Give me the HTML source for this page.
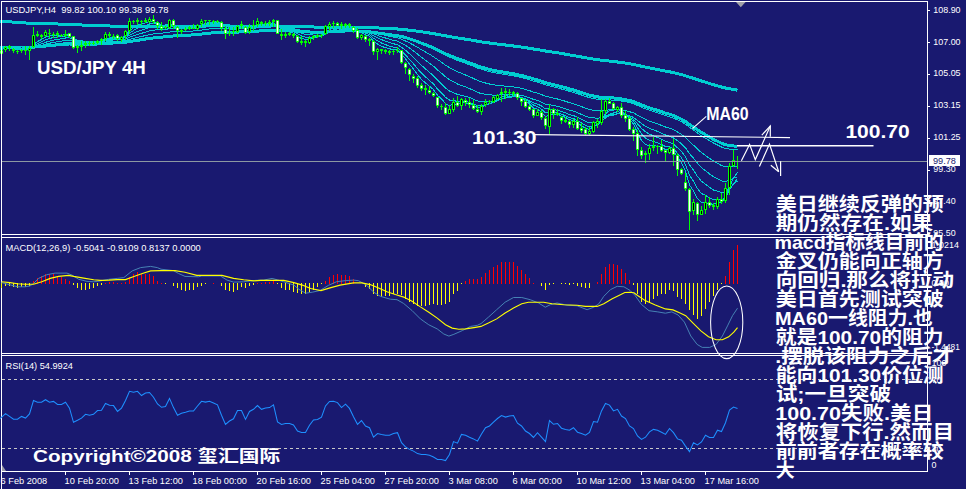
<!DOCTYPE html><html><head><meta charset="utf-8"><title>USDJPY H4</title><style>html,body{margin:0;padding:0;background:#191970;overflow:hidden}svg{display:block}</style></head><body><svg width="966" height="490" viewBox="0 0 966 490"><rect x="0" y="0" width="966" height="490" fill="#191970"/>
<polyline fill="none" stroke="#00ced1" stroke-width="1" points="0.0,47.7 5.5,47.7 9.5,47.7 13.5,47.8 17.5,47.9 21.5,48.0 25.5,48.1 29.5,48.1 33.5,47.6 37.5,47.2 41.5,46.8 45.5,46.2 49.5,45.8 53.5,45.4 57.5,45.0 61.5,44.7 65.5,44.3 69.5,44.0 73.5,44.1 77.5,44.2 81.5,44.2 85.5,44.2 89.5,44.1 93.5,44.1 97.5,44.0 101.5,43.8 105.5,43.5 109.5,43.2 113.5,42.9 117.5,42.8 121.5,42.6 125.5,42.2 129.5,41.4 133.5,40.7 137.5,40.0 141.5,39.3 145.5,38.7 149.5,38.0 153.5,37.4 157.5,37.0 161.5,36.7 165.5,36.3 169.5,35.8 173.5,35.4 177.5,35.3 181.5,35.1 185.5,34.9 189.5,34.6 193.5,34.3 197.5,34.0 201.5,33.5 205.5,33.1 209.5,32.6 213.5,32.2 217.5,31.8 221.5,31.7 225.5,31.8 229.5,31.8 233.5,31.8 237.5,31.6 241.5,31.3 245.5,31.3 249.5,31.2 253.5,30.9 257.5,30.6 261.5,30.4 265.5,30.1 269.5,29.9 273.5,29.5 277.5,29.7 281.5,29.9 285.5,30.0 289.5,30.1 293.5,30.4 297.5,30.8 301.5,31.2 305.5,31.6 309.5,31.8 313.5,31.9 317.5,32.0 321.5,32.1 325.5,31.9 329.5,31.6 333.5,31.3 337.5,31.1 341.5,31.0 345.5,30.7 349.5,30.6 353.5,30.6 357.5,30.8 361.5,31.0 365.5,31.3 369.5,31.6 373.5,32.3 377.5,32.9 381.5,33.5 385.5,34.1 389.5,34.7 393.5,35.3 397.5,35.8 401.5,36.8 405.5,37.9 409.5,39.3 413.5,40.7 417.5,42.3 421.5,44.0 425.5,45.6 429.5,47.3 433.5,49.0 437.5,51.1 441.5,53.1 445.5,55.2 449.5,57.1 453.5,58.7 457.5,60.4 461.5,61.8 465.5,63.3 469.5,64.8 473.5,66.3 477.5,68.0 481.5,69.3 485.5,70.5 489.5,71.6 493.5,72.5 497.5,73.3 501.5,73.9 505.5,74.6 509.5,75.3 513.5,75.9 517.5,76.7 521.5,77.6 525.5,78.7 529.5,79.8 533.5,81.1 537.5,82.2 541.5,83.5 545.5,85.0 549.5,85.8 553.5,86.9 557.5,87.8 561.5,89.0 565.5,90.1 569.5,91.3 573.5,92.4 577.5,93.7 581.5,95.0 585.5,96.4 589.5,97.6 593.5,98.5 597.5,99.3 601.5,99.7 605.5,99.8 609.5,99.9 613.5,100.3 617.5,100.5 621.5,101.0 625.5,101.7 629.5,102.7 633.5,103.8 637.5,105.4 641.5,107.2 645.5,108.9 649.5,110.3 653.5,111.6 657.5,112.8 661.5,114.2 665.5,115.6 669.5,116.7 673.5,118.1 677.5,119.9 681.5,121.9 685.5,124.2 689.5,127.4 693.5,130.1 697.5,133.1 701.5,135.9 705.5,138.2 709.5,140.6 713.5,143.0 717.5,145.0 721.5,147.0 725.5,148.4 729.5,149.1 733.5,149.5 737.5,149.9" shape-rendering="crispEdges"/>
<polyline fill="none" stroke="#00ced1" stroke-width="1" points="0.0,47.8 5.5,47.8 9.5,47.8 13.5,48.0 17.5,48.2 21.5,48.3 25.5,48.4 29.5,48.3 33.5,47.5 37.5,46.9 41.5,46.2 45.5,45.4 49.5,44.8 53.5,44.2 57.5,43.6 61.5,43.2 65.5,42.6 69.5,42.3 73.5,42.6 77.5,42.8 81.5,42.9 85.5,42.9 89.5,42.9 93.5,42.9 97.5,42.8 101.5,42.6 105.5,42.1 109.5,41.7 113.5,41.4 117.5,41.3 121.5,41.0 125.5,40.5 129.5,39.4 133.5,38.3 137.5,37.3 141.5,36.5 145.5,35.5 149.5,34.6 153.5,33.9 157.5,33.4 161.5,33.1 165.5,32.8 169.5,32.1 173.5,31.7 177.5,31.7 181.5,31.6 185.5,31.4 189.5,31.2 193.5,31.0 197.5,30.6 201.5,30.1 205.5,29.6 209.5,29.0 213.5,28.6 217.5,28.1 221.5,28.1 225.5,28.5 229.5,28.7 233.5,28.9 237.5,28.7 241.5,28.4 245.5,28.7 249.5,28.6 253.5,28.3 257.5,27.9 261.5,27.7 265.5,27.5 269.5,27.2 273.5,26.8 277.5,27.2 281.5,27.7 285.5,28.0 289.5,28.3 293.5,28.8 297.5,29.5 301.5,30.3 305.5,30.9 309.5,31.3 313.5,31.6 317.5,31.8 321.5,31.9 325.5,31.6 329.5,31.2 333.5,30.7 337.5,30.4 341.5,30.2 345.5,29.9 349.5,29.6 353.5,29.7 357.5,30.2 361.5,30.4 365.5,31.0 369.5,31.4 373.5,32.6 377.5,33.5 381.5,34.6 385.5,35.4 389.5,36.3 393.5,37.2 397.5,37.9 401.5,39.3 405.5,41.0 409.5,42.9 413.5,45.0 417.5,47.3 421.5,49.7 425.5,52.0 429.5,54.3 433.5,56.7 437.5,59.6 441.5,62.2 445.5,65.2 449.5,67.7 453.5,69.6 457.5,71.7 461.5,73.3 465.5,75.0 469.5,76.7 473.5,78.5 477.5,80.4 481.5,81.9 485.5,83.0 489.5,84.0 493.5,84.8 497.5,85.4 501.5,85.8 505.5,86.2 509.5,86.5 513.5,86.9 517.5,87.6 521.5,88.4 525.5,89.5 529.5,90.6 533.5,92.1 537.5,93.2 541.5,94.6 545.5,96.4 549.5,97.1 553.5,98.1 557.5,99.0 561.5,100.2 565.5,101.3 569.5,102.7 573.5,103.7 577.5,105.2 581.5,106.6 585.5,108.2 589.5,109.5 593.5,110.2 597.5,110.9 601.5,110.8 605.5,110.3 609.5,109.9 613.5,109.9 617.5,109.7 621.5,110.1 625.5,110.6 629.5,111.7 633.5,112.9 637.5,115.1 641.5,117.4 645.5,119.4 649.5,121.1 653.5,122.5 657.5,123.9 661.5,125.4 665.5,127.0 669.5,128.2 673.5,129.7 677.5,132.0 681.5,134.4 685.5,137.5 689.5,141.8 693.5,145.2 697.5,149.2 701.5,152.7 705.5,155.5 709.5,158.4 713.5,161.1 717.5,163.3 721.5,165.5 725.5,166.7 729.5,166.7 733.5,166.3 737.5,166.0" shape-rendering="crispEdges"/>
<polyline fill="none" stroke="#00ced1" stroke-width="1" points="0.0,48.1 5.5,47.9 9.5,47.9 13.5,48.3 17.5,48.5 21.5,48.6 25.5,48.7 29.5,48.6 33.5,47.4 37.5,46.3 41.5,45.4 45.5,44.2 49.5,43.2 53.5,42.4 57.5,41.7 61.5,41.1 65.5,40.5 69.5,40.1 73.5,40.8 77.5,41.3 81.5,41.6 85.5,41.7 89.5,41.8 93.5,41.9 97.5,41.8 101.5,41.6 105.5,40.9 109.5,40.5 113.5,40.0 117.5,39.9 121.5,39.7 125.5,38.9 129.5,37.3 133.5,35.9 137.5,34.4 141.5,33.3 145.5,32.1 149.5,30.9 153.5,30.2 157.5,29.8 161.5,29.7 165.5,29.4 169.5,28.6 173.5,28.4 177.5,28.6 181.5,28.7 185.5,28.7 189.5,28.6 193.5,28.5 197.5,28.2 201.5,27.6 205.5,26.9 209.5,26.3 213.5,25.8 217.5,25.4 221.5,25.6 225.5,26.4 229.5,27.0 233.5,27.4 237.5,27.2 241.5,27.0 245.5,27.5 249.5,27.4 253.5,27.2 257.5,26.6 261.5,26.4 265.5,26.1 269.5,25.8 273.5,25.3 277.5,26.0 281.5,26.9 285.5,27.6 289.5,28.1 293.5,28.8 297.5,30.0 301.5,31.2 305.5,32.1 309.5,32.7 313.5,32.9 317.5,33.1 321.5,33.3 325.5,32.6 329.5,31.8 333.5,31.0 337.5,30.5 341.5,30.1 345.5,29.6 349.5,29.3 353.5,29.4 357.5,30.2 361.5,30.6 365.5,31.5 369.5,32.1 373.5,33.9 377.5,35.3 381.5,36.8 385.5,38.0 389.5,39.2 393.5,40.3 397.5,41.1 401.5,43.1 405.5,45.4 409.5,48.1 413.5,50.9 417.5,54.1 421.5,57.2 425.5,60.2 429.5,63.2 433.5,66.2 437.5,69.9 441.5,73.2 445.5,76.8 449.5,79.8 453.5,81.8 457.5,84.0 461.5,85.4 465.5,86.9 469.5,88.6 473.5,90.4 477.5,92.4 481.5,93.6 485.5,94.3 489.5,94.9 493.5,95.1 497.5,95.1 501.5,94.8 505.5,94.7 509.5,94.5 513.5,94.4 517.5,94.8 521.5,95.4 525.5,96.5 529.5,97.7 533.5,99.4 537.5,100.5 541.5,102.1 545.5,104.3 549.5,104.7 553.5,105.6 557.5,106.2 561.5,107.6 565.5,108.7 569.5,110.2 573.5,111.1 577.5,112.8 581.5,114.4 585.5,116.2 589.5,117.5 593.5,117.9 597.5,118.2 601.5,117.6 605.5,116.0 609.5,114.9 613.5,114.4 617.5,113.8 621.5,113.9 625.5,114.4 629.5,115.8 633.5,117.4 637.5,120.4 641.5,123.6 645.5,126.3 649.5,128.3 653.5,129.9 657.5,131.4 661.5,133.2 665.5,135.0 669.5,136.2 673.5,137.9 677.5,140.8 681.5,143.8 685.5,147.9 689.5,153.7 693.5,158.2 697.5,163.3 701.5,167.6 705.5,170.7 709.5,173.9 713.5,176.8 717.5,178.8 721.5,180.9 725.5,181.5 729.5,180.1 733.5,178.3 737.5,176.7" shape-rendering="crispEdges"/>
<polyline fill="none" stroke="#00ced1" stroke-width="1" points="0.0,48.4 5.5,48.1 9.5,48.1 13.5,48.6 17.5,49.0 21.5,49.1 25.5,49.2 29.5,49.0 33.5,46.9 37.5,45.4 41.5,43.9 45.5,42.3 49.5,41.1 53.5,40.1 57.5,39.3 61.5,38.8 65.5,38.0 69.5,37.8 73.5,39.3 77.5,40.3 81.5,40.9 85.5,41.2 89.5,41.4 93.5,41.6 97.5,41.5 101.5,41.2 105.5,40.2 109.5,39.6 113.5,39.0 117.5,39.0 121.5,38.7 125.5,37.7 129.5,35.3 133.5,33.3 137.5,31.4 141.5,30.2 145.5,28.7 149.5,27.3 153.5,26.6 157.5,26.5 161.5,26.8 165.5,26.8 169.5,25.9 173.5,25.9 177.5,26.7 181.5,27.2 185.5,27.4 189.5,27.4 193.5,27.4 197.5,27.0 201.5,26.2 205.5,25.4 209.5,24.7 213.5,24.1 217.5,23.7 221.5,24.3 225.5,25.8 229.5,26.8 233.5,27.4 237.5,27.1 241.5,26.7 245.5,27.6 249.5,27.4 253.5,27.1 257.5,26.2 261.5,26.0 265.5,25.6 269.5,25.1 273.5,24.4 277.5,25.7 281.5,27.2 285.5,28.1 289.5,28.9 293.5,29.9 297.5,31.7 301.5,33.3 305.5,34.4 309.5,34.9 313.5,35.0 317.5,35.0 321.5,35.0 325.5,33.7 329.5,32.3 333.5,31.0 337.5,30.2 341.5,29.7 345.5,28.9 349.5,28.5 353.5,28.8 357.5,30.1 361.5,30.8 365.5,32.1 369.5,33.1 373.5,35.8 377.5,37.7 381.5,39.6 385.5,41.1 389.5,42.6 393.5,43.8 397.5,44.7 401.5,47.2 405.5,50.2 409.5,53.8 413.5,57.4 417.5,61.4 421.5,65.4 425.5,68.9 429.5,72.3 433.5,75.8 437.5,80.2 441.5,83.8 445.5,88.1 449.5,91.1 453.5,92.6 457.5,94.5 461.5,95.2 465.5,96.3 469.5,97.5 473.5,99.2 477.5,101.0 481.5,101.7 485.5,101.7 489.5,101.5 493.5,100.9 497.5,100.0 501.5,98.9 505.5,98.1 509.5,97.3 513.5,96.8 517.5,97.0 521.5,97.7 525.5,99.0 529.5,100.6 533.5,102.8 537.5,104.1 541.5,106.0 545.5,109.0 549.5,108.9 553.5,109.7 557.5,110.2 561.5,111.7 565.5,112.8 569.5,114.6 573.5,115.5 577.5,117.4 581.5,119.3 585.5,121.4 589.5,122.8 593.5,122.7 597.5,122.5 601.5,120.8 605.5,118.0 609.5,115.9 613.5,115.0 617.5,113.9 621.5,114.1 625.5,114.8 629.5,117.0 633.5,119.4 637.5,123.8 641.5,128.3 645.5,131.9 649.5,134.2 653.5,135.8 657.5,137.4 661.5,139.3 665.5,141.3 669.5,142.3 673.5,144.1 677.5,147.8 681.5,151.5 685.5,156.8 689.5,164.7 693.5,170.1 697.5,176.5 701.5,181.3 705.5,184.2 709.5,187.4 713.5,190.0 717.5,191.2 721.5,192.7 725.5,192.0 729.5,188.3 733.5,184.3 737.5,181.0" shape-rendering="crispEdges"/>
<polyline fill="none" stroke="#00ced1" stroke-width="1" points="0.0,48.9 5.5,48.4 9.5,48.3 13.5,49.0 17.5,49.5 21.5,49.5 25.5,49.6 29.5,49.2 33.5,45.9 37.5,43.8 41.5,41.9 45.5,39.8 49.5,38.5 53.5,37.5 57.5,36.9 61.5,36.6 65.5,35.9 69.5,36.1 73.5,38.8 77.5,40.4 81.5,41.4 85.5,41.6 89.5,41.9 93.5,42.1 97.5,41.8 101.5,41.3 105.5,39.8 109.5,38.9 113.5,38.2 117.5,38.3 121.5,38.1 125.5,36.6 129.5,33.2 133.5,30.5 137.5,28.2 141.5,26.9 145.5,25.4 149.5,24.0 153.5,23.6 157.5,24.1 161.5,25.1 165.5,25.5 169.5,24.3 173.5,24.7 177.5,26.2 181.5,27.0 185.5,27.4 189.5,27.4 193.5,27.4 197.5,26.8 201.5,25.6 205.5,24.5 209.5,23.6 213.5,22.9 217.5,22.5 221.5,23.8 225.5,26.1 229.5,27.6 233.5,28.4 237.5,27.8 241.5,27.0 245.5,28.3 249.5,27.9 253.5,27.2 257.5,25.9 261.5,25.6 265.5,25.0 269.5,24.5 273.5,23.5 277.5,25.8 281.5,28.0 285.5,29.3 289.5,30.2 293.5,31.5 297.5,33.9 301.5,35.9 305.5,37.1 309.5,37.3 313.5,36.9 317.5,36.5 321.5,36.1 325.5,33.9 329.5,31.6 333.5,29.7 337.5,28.8 341.5,28.3 345.5,27.4 349.5,27.2 353.5,27.9 357.5,30.1 361.5,31.2 365.5,33.1 369.5,34.4 373.5,38.3 377.5,40.7 381.5,43.0 385.5,44.6 389.5,46.1 393.5,47.2 397.5,47.8 401.5,51.1 405.5,54.9 409.5,59.4 413.5,63.8 417.5,68.7 421.5,73.2 425.5,76.9 429.5,80.4 433.5,84.0 437.5,89.0 441.5,92.8 445.5,97.4 449.5,100.1 453.5,100.4 457.5,101.6 461.5,101.1 465.5,101.5 469.5,102.3 473.5,103.8 477.5,105.6 481.5,105.7 485.5,104.7 489.5,103.8 493.5,102.4 497.5,100.7 501.5,98.8 505.5,97.6 509.5,96.4 513.5,95.8 517.5,96.4 521.5,97.6 525.5,99.7 529.5,101.9 533.5,105.1 537.5,106.6 541.5,109.1 545.5,112.9 549.5,112.0 553.5,112.6 557.5,112.6 561.5,114.4 565.5,115.6 569.5,117.7 573.5,118.4 577.5,120.8 581.5,123.0 585.5,125.4 589.5,126.7 593.5,125.6 597.5,124.7 601.5,121.6 605.5,117.0 609.5,114.1 613.5,113.0 617.5,111.7 621.5,112.6 625.5,114.0 629.5,117.5 633.5,121.1 637.5,127.6 641.5,133.8 645.5,138.1 649.5,140.4 653.5,141.5 657.5,142.8 661.5,144.5 665.5,146.5 669.5,146.8 673.5,148.7 677.5,153.3 681.5,157.8 685.5,164.7 689.5,175.3 693.5,181.3 697.5,188.7 701.5,193.5 705.5,195.4 709.5,197.9 713.5,199.5 717.5,199.4 721.5,199.9 725.5,197.2 729.5,190.2 733.5,183.6 737.5,178.6" shape-rendering="crispEdges"/>
<polyline fill="none" stroke="#00ced1" stroke-width="1" points="0.0,49.5 5.5,48.6 9.5,48.4 13.5,49.4 17.5,50.0 21.5,49.9 25.5,49.9 29.5,49.1 33.5,44.3 37.5,41.6 41.5,39.5 45.5,37.1 49.5,36.1 53.5,35.3 57.5,35.2 61.5,35.3 65.5,34.7 69.5,35.3 73.5,39.6 77.5,41.8 81.5,42.8 85.5,42.7 89.5,42.8 93.5,42.7 97.5,42.1 101.5,41.2 105.5,38.9 109.5,37.9 113.5,37.1 117.5,37.7 121.5,37.6 125.5,35.5 129.5,30.8 133.5,27.6 137.5,25.1 141.5,24.2 145.5,22.8 149.5,21.5 153.5,21.9 157.5,23.1 161.5,25.0 165.5,25.7 169.5,23.8 173.5,24.6 177.5,26.8 181.5,27.9 185.5,28.1 189.5,27.9 193.5,27.8 197.5,26.8 201.5,25.0 205.5,23.5 209.5,22.5 213.5,21.9 217.5,21.6 221.5,23.8 225.5,27.3 229.5,29.1 233.5,29.8 237.5,28.4 241.5,27.1 245.5,28.9 249.5,28.1 253.5,27.0 257.5,25.1 261.5,24.9 265.5,24.3 269.5,23.7 273.5,22.5 277.5,26.3 281.5,29.4 285.5,30.9 289.5,31.7 293.5,33.2 297.5,36.2 301.5,38.5 305.5,39.4 309.5,38.9 313.5,37.8 317.5,36.9 321.5,36.1 325.5,32.8 329.5,29.7 333.5,27.6 337.5,26.9 341.5,26.7 345.5,25.9 349.5,26.1 353.5,27.6 357.5,31.0 361.5,32.3 365.5,34.8 369.5,36.2 373.5,41.5 377.5,44.0 381.5,46.4 385.5,47.6 389.5,48.8 393.5,49.6 397.5,49.7 401.5,54.0 405.5,58.8 409.5,64.2 413.5,69.1 417.5,74.7 421.5,79.4 425.5,83.0 429.5,86.2 433.5,89.7 437.5,95.3 441.5,98.8 445.5,103.7 449.5,105.6 453.5,104.3 457.5,104.8 461.5,103.0 465.5,102.9 469.5,103.7 473.5,105.4 477.5,107.6 481.5,107.0 485.5,105.2 489.5,103.7 493.5,101.5 497.5,99.3 501.5,97.0 505.5,95.7 509.5,94.5 513.5,94.3 517.5,95.7 521.5,97.7 525.5,100.8 529.5,103.8 533.5,108.0 537.5,109.3 541.5,112.1 545.5,116.8 549.5,114.2 553.5,114.3 557.5,113.8 561.5,116.1 565.5,117.3 569.5,119.9 573.5,120.3 577.5,123.1 581.5,125.7 585.5,128.4 589.5,129.3 593.5,126.9 597.5,125.0 601.5,120.3 605.5,113.8 609.5,110.5 613.5,110.1 617.5,109.1 621.5,111.3 625.5,113.8 629.5,119.2 633.5,124.0 637.5,132.7 641.5,140.4 645.5,144.7 649.5,145.8 653.5,145.8 657.5,146.2 661.5,147.7 665.5,149.5 669.5,149.1 673.5,151.1 677.5,157.2 681.5,162.7 685.5,171.4 689.5,185.1 693.5,190.8 697.5,198.7 701.5,202.7 705.5,202.4 709.5,203.7 713.5,204.3 717.5,202.4 721.5,202.2 725.5,197.4 729.5,186.9 733.5,178.0 737.5,172.5" shape-rendering="crispEdges"/>
<polyline fill="none" stroke="#00ced1" stroke-width="3" points="0.0,47.2 5.5,47.2 9.5,47.2 13.5,47.4 17.5,47.5 21.5,47.6 25.5,47.6 29.5,47.6 33.5,47.2 37.5,46.8 41.5,46.5 45.5,46.0 49.5,45.6 53.5,45.2 57.5,44.9 61.5,44.6 65.5,44.2 69.5,44.0 73.5,44.1 77.5,44.2 81.5,44.2 85.5,44.1 89.5,44.1 93.5,44.1 97.5,44.0 101.5,43.8 105.5,43.5 109.5,43.2 113.5,43.0 117.5,42.9 121.5,42.7 125.5,42.3 129.5,41.6 133.5,40.9 137.5,40.3 141.5,39.7 145.5,39.0 149.5,38.4 153.5,37.9 157.5,37.5 161.5,37.2 165.5,36.8 169.5,36.3 173.5,36.0 177.5,35.8 181.5,35.6 185.5,35.4 189.5,35.1 193.5,34.9 197.5,34.5 201.5,34.1 205.5,33.7 209.5,33.2 213.5,32.8 217.5,32.4 221.5,32.3 225.5,32.4 229.5,32.4 233.5,32.3 237.5,32.1 241.5,31.9 245.5,31.9 249.5,31.7 253.5,31.5 257.5,31.1 261.5,30.9 265.5,30.7 269.5,30.4 273.5,30.1 277.5,30.2 281.5,30.4 285.5,30.5 289.5,30.6 293.5,30.8 297.5,31.1 301.5,31.5 305.5,31.8 309.5,32.0 313.5,32.2 317.5,32.3 321.5,32.3 325.5,32.1 329.5,31.9 333.5,31.6 337.5,31.4 341.5,31.2 345.5,31.0 349.5,30.8 353.5,30.8 357.5,31.1 361.5,31.2 365.5,31.5 369.5,31.7 373.5,32.4 377.5,32.9 381.5,33.5 385.5,34.1 389.5,34.6 393.5,35.2 397.5,35.7 401.5,36.5 405.5,37.6 409.5,38.8 413.5,40.1 417.5,41.6 421.5,43.2 425.5,44.7 429.5,46.3 433.5,47.9 437.5,49.9 441.5,51.7 445.5,53.7 449.5,55.5 453.5,57.1 457.5,58.7 461.5,60.0 465.5,61.4 469.5,62.8 473.5,64.3 477.5,65.9 481.5,67.2 485.5,68.3 489.5,69.4 493.5,70.3 497.5,71.1 501.5,71.8 505.5,72.5 509.5,73.1 513.5,73.8 517.5,74.6 521.5,75.5 525.5,76.6 529.5,77.6 533.5,78.9 537.5,80.0 541.5,81.2 545.5,82.7 549.5,83.6 553.5,84.6 557.5,85.5 561.5,86.7 565.5,87.7 569.5,89.0 573.5,90.0 577.5,91.3 581.5,92.6 585.5,93.9 589.5,95.2 593.5,96.0 597.5,96.9 601.5,97.3 605.5,97.4 609.5,97.7 613.5,98.0 617.5,98.3 621.5,98.9 625.5,99.6 629.5,100.5 633.5,101.6 637.5,103.2 641.5,104.9 645.5,106.5 649.5,107.9 653.5,109.1 657.5,110.4 661.5,111.7 665.5,113.1 669.5,114.2 673.5,115.6 677.5,117.3 681.5,119.2 685.5,121.5 689.5,124.4 693.5,127.0 697.5,129.9 701.5,132.5 705.5,134.8 709.5,137.1 713.5,139.4 717.5,141.3 721.5,143.3 725.5,144.8 729.5,145.4 733.5,145.9 737.5,146.4" stroke-linejoin="round" shape-rendering="crispEdges"/>
<polyline fill="none" stroke="#00ced1" stroke-width="3" points="0.0,21.3 5.5,21.6 9.5,21.8 13.5,22.1 17.5,22.4 21.5,22.7 25.5,23.0 29.5,23.2 33.5,23.3 37.5,23.5 41.5,23.6 45.5,23.7 49.5,23.8 53.5,23.9 57.5,24.0 61.5,24.1 65.5,24.2 69.5,24.3 73.5,24.5 77.5,24.8 81.5,25.0 85.5,25.1 89.5,25.3 93.5,25.5 97.5,25.6 101.5,25.8 105.5,25.9 109.5,26.0 113.5,26.1 117.5,26.2 121.5,26.3 125.5,26.3 129.5,26.3 133.5,26.2 137.5,26.2 141.5,26.1 145.5,26.1 149.5,26.0 153.5,26.0 157.5,26.0 161.5,26.0 165.5,26.0 169.5,25.9 173.5,26.0 177.5,26.0 181.5,26.0 185.5,26.1 189.5,26.1 193.5,26.1 197.5,26.1 201.5,26.0 205.5,26.0 209.5,25.9 213.5,25.9 217.5,25.8 221.5,25.8 225.5,25.9 229.5,26.0 233.5,26.1 237.5,26.0 241.5,26.0 245.5,26.1 249.5,26.1 253.5,26.1 257.5,26.0 261.5,26.0 265.5,26.0 269.5,26.0 273.5,25.9 277.5,26.0 281.5,26.1 285.5,26.2 289.5,26.2 293.5,26.3 297.5,26.5 301.5,26.7 305.5,26.8 309.5,26.9 313.5,27.0 317.5,27.1 321.5,27.1 325.5,27.1 329.5,27.1 333.5,27.1 337.5,27.1 341.5,27.0 345.5,27.0 349.5,27.0 353.5,27.0 357.5,27.2 361.5,27.2 365.5,27.4 369.5,27.5 373.5,27.7 377.5,27.9 381.5,28.2 385.5,28.4 389.5,28.6 393.5,28.8 397.5,29.0 401.5,29.4 405.5,29.8 409.5,30.2 413.5,30.7 417.5,31.2 421.5,31.8 425.5,32.4 429.5,33.0 433.5,33.6 437.5,34.4 441.5,35.1 445.5,35.8 449.5,36.6 453.5,37.2 457.5,37.9 461.5,38.5 465.5,39.2 469.5,39.8 473.5,40.5 477.5,41.2 481.5,41.9 485.5,42.5 489.5,43.0 493.5,43.6 497.5,44.1 501.5,44.6 505.5,45.0 509.5,45.5 513.5,46.0 517.5,46.5 521.5,47.1 525.5,47.7 529.5,48.3 533.5,49.0 537.5,49.6 541.5,50.3 545.5,51.0 549.5,51.6 553.5,52.2 557.5,52.8 561.5,53.5 565.5,54.2 569.5,54.9 573.5,55.5 577.5,56.3 581.5,57.0 585.5,57.8 589.5,58.5 593.5,59.1 597.5,59.7 601.5,60.2 605.5,60.7 609.5,61.1 613.5,61.6 617.5,62.0 621.5,62.5 625.5,63.1 629.5,63.8 633.5,64.5 637.5,65.3 641.5,66.2 645.5,67.1 649.5,67.9 653.5,68.7 657.5,69.4 661.5,70.3 665.5,71.1 669.5,71.8 673.5,72.7 677.5,73.6 681.5,74.6 685.5,75.8 689.5,77.1 693.5,78.4 697.5,79.7 701.5,81.0 705.5,82.2 709.5,83.5 713.5,84.7 717.5,85.8 721.5,87.0 725.5,88.0 729.5,88.7 733.5,89.5 737.5,90.2" stroke-linejoin="round" shape-rendering="crispEdges"/>
<g shape-rendering="crispEdges"><rect x="1" y="48" width="1" height="6" fill="#00ff00"/><rect x="0" y="50" width="3" height="4" fill="#00ff00"/><rect x="1" y="51" width="1" height="2" fill="#ffffff"/><rect x="0" y="51" width="3" height="2" fill="#ffffff" opacity="0.3"/><rect x="5" y="46" width="1" height="6" fill="#00ff00"/><rect x="4" y="47" width="3" height="3" fill="#00ff00"/><rect x="5" y="48" width="1" height="1" fill="#000"/><rect x="9" y="45" width="1" height="6" fill="#00ff00"/><rect x="8" y="46" width="3" height="2" fill="#00ff00"/><rect x="13" y="48" width="1" height="5" fill="#00ff00"/><rect x="12" y="49" width="3" height="2" fill="#00ff00"/><rect x="17" y="50" width="1" height="4" fill="#00ff00"/><rect x="16" y="51" width="3" height="1" fill="#00ff00"/><rect x="21" y="49" width="1" height="4" fill="#00ff00"/><rect x="20" y="50" width="3" height="1" fill="#00ff00"/><rect x="25" y="46" width="1" height="9" fill="#00ff00"/><rect x="24" y="50" width="3" height="1" fill="#00ff00"/><rect x="29" y="46" width="1" height="14" fill="#00ff00"/><rect x="28" y="48" width="3" height="3" fill="#00ff00"/><rect x="29" y="49" width="1" height="1" fill="#000"/><rect x="33" y="27" width="1" height="21" fill="#00ff00"/><rect x="32" y="35" width="3" height="12" fill="#00ff00"/><rect x="33" y="36" width="1" height="10" fill="#000"/><rect x="37" y="31" width="1" height="6" fill="#00ff00"/><rect x="36" y="34" width="3" height="2" fill="#00ff00"/><rect x="41" y="34" width="1" height="5" fill="#00ff00"/><rect x="40" y="35" width="3" height="2" fill="#00ff00"/><rect x="45" y="30" width="1" height="7" fill="#00ff00"/><rect x="44" y="32" width="3" height="4" fill="#00ff00"/><rect x="45" y="33" width="1" height="2" fill="#000"/><rect x="49" y="29" width="1" height="9" fill="#00ff00"/><rect x="48" y="33" width="3" height="1" fill="#00ff00"/><rect x="53" y="32" width="1" height="6" fill="#00ff00"/><rect x="52" y="34" width="3" height="1" fill="#00ff00"/><rect x="57" y="31" width="1" height="7" fill="#00ff00"/><rect x="56" y="33" width="3" height="2" fill="#00ff00"/><rect x="61" y="34" width="1" height="3" fill="#00ff00"/><rect x="60" y="35" width="3" height="1" fill="#00ff00"/><rect x="65" y="30" width="1" height="7" fill="#00ff00"/><rect x="64" y="34" width="3" height="2" fill="#00ff00"/><rect x="69" y="33" width="1" height="5" fill="#00ff00"/><rect x="68" y="33" width="3" height="4" fill="#00ff00"/><rect x="69" y="34" width="1" height="2" fill="#ffffff"/><rect x="68" y="34" width="3" height="2" fill="#ffffff" opacity="0.3"/><rect x="73" y="36" width="1" height="13" fill="#00ff00"/><rect x="72" y="36" width="3" height="12" fill="#00ff00"/><rect x="73" y="37" width="1" height="10" fill="#ffffff"/><rect x="72" y="37" width="3" height="10" fill="#ffffff" opacity="0.3"/><rect x="77" y="45" width="1" height="8" fill="#00ff00"/><rect x="76" y="46" width="3" height="2" fill="#00ff00"/><rect x="81" y="41" width="1" height="10" fill="#00ff00"/><rect x="80" y="45" width="3" height="2" fill="#00ff00"/><rect x="85" y="41" width="1" height="7" fill="#00ff00"/><rect x="84" y="43" width="3" height="2" fill="#00ff00"/><rect x="89" y="41" width="1" height="5" fill="#00ff00"/><rect x="88" y="43" width="3" height="1" fill="#00ff00"/><rect x="93" y="41" width="1" height="4" fill="#00ff00"/><rect x="92" y="43" width="3" height="1" fill="#00ff00"/><rect x="97" y="40" width="1" height="4" fill="#00ff00"/><rect x="96" y="41" width="3" height="2" fill="#00ff00"/><rect x="101" y="38" width="1" height="7" fill="#00ff00"/><rect x="100" y="39" width="3" height="2" fill="#00ff00"/><rect x="105" y="32" width="1" height="9" fill="#00ff00"/><rect x="104" y="34" width="3" height="5" fill="#00ff00"/><rect x="105" y="35" width="1" height="3" fill="#000"/><rect x="109" y="32" width="1" height="6" fill="#00ff00"/><rect x="108" y="34" width="3" height="2" fill="#00ff00"/><rect x="113" y="34" width="1" height="5" fill="#00ff00"/><rect x="112" y="36" width="3" height="1" fill="#00ff00"/><rect x="117" y="34" width="1" height="7" fill="#00ff00"/><rect x="116" y="35" width="3" height="4" fill="#00ff00"/><rect x="117" y="36" width="1" height="2" fill="#ffffff"/><rect x="116" y="36" width="3" height="2" fill="#ffffff" opacity="0.3"/><rect x="121" y="36" width="1" height="6" fill="#00ff00"/><rect x="120" y="37" width="3" height="3" fill="#00ff00"/><rect x="121" y="38" width="1" height="1" fill="#000"/><rect x="125" y="30" width="1" height="10" fill="#00ff00"/><rect x="124" y="31" width="3" height="5" fill="#00ff00"/><rect x="125" y="32" width="1" height="3" fill="#000"/><rect x="129" y="18" width="1" height="16" fill="#00ff00"/><rect x="128" y="21" width="3" height="10" fill="#00ff00"/><rect x="129" y="22" width="1" height="8" fill="#000"/><rect x="133" y="20" width="1" height="4" fill="#00ff00"/><rect x="132" y="21" width="3" height="1" fill="#00ff00"/><rect x="137" y="18" width="1" height="7" fill="#00ff00"/><rect x="136" y="20" width="3" height="2" fill="#00ff00"/><rect x="141" y="20" width="1" height="5" fill="#00ff00"/><rect x="140" y="21" width="3" height="1" fill="#00ff00"/><rect x="145" y="18" width="1" height="5" fill="#00ff00"/><rect x="144" y="20" width="3" height="2" fill="#00ff00"/><rect x="149" y="17" width="1" height="6" fill="#00ff00"/><rect x="148" y="19" width="3" height="3" fill="#00ff00"/><rect x="149" y="20" width="1" height="1" fill="#000"/><rect x="153" y="15" width="1" height="9" fill="#00ff00"/><rect x="152" y="19" width="3" height="3" fill="#00ff00"/><rect x="153" y="20" width="1" height="1" fill="#ffffff"/><rect x="152" y="20" width="3" height="1" fill="#ffffff" opacity="0.3"/><rect x="157" y="21" width="1" height="8" fill="#00ff00"/><rect x="156" y="22" width="3" height="4" fill="#00ff00"/><rect x="157" y="23" width="1" height="2" fill="#ffffff"/><rect x="156" y="23" width="3" height="2" fill="#ffffff" opacity="0.3"/><rect x="161" y="22" width="1" height="9" fill="#00ff00"/><rect x="160" y="26" width="3" height="3" fill="#00ff00"/><rect x="161" y="27" width="1" height="1" fill="#ffffff"/><rect x="160" y="27" width="3" height="1" fill="#ffffff" opacity="0.3"/><rect x="165" y="26" width="1" height="3" fill="#00ff00"/><rect x="164" y="27" width="3" height="1" fill="#00ff00"/><rect x="169" y="19" width="1" height="10" fill="#00ff00"/><rect x="168" y="20" width="3" height="8" fill="#00ff00"/><rect x="169" y="21" width="1" height="6" fill="#000"/><rect x="173" y="19" width="1" height="10" fill="#00ff00"/><rect x="172" y="20" width="3" height="6" fill="#00ff00"/><rect x="173" y="21" width="1" height="4" fill="#ffffff"/><rect x="172" y="21" width="3" height="4" fill="#ffffff" opacity="0.3"/><rect x="177" y="26" width="1" height="12" fill="#00ff00"/><rect x="176" y="27" width="3" height="4" fill="#00ff00"/><rect x="177" y="28" width="1" height="2" fill="#ffffff"/><rect x="176" y="28" width="3" height="2" fill="#ffffff" opacity="0.3"/><rect x="181" y="29" width="1" height="5" fill="#00ff00"/><rect x="180" y="30" width="3" height="2" fill="#00ff00"/><rect x="185" y="27" width="1" height="4" fill="#00ff00"/><rect x="184" y="29" width="3" height="1" fill="#00ff00"/><rect x="189" y="26" width="1" height="4" fill="#00ff00"/><rect x="188" y="27" width="3" height="2" fill="#00ff00"/><rect x="193" y="24" width="1" height="5" fill="#00ff00"/><rect x="192" y="28" width="3" height="1" fill="#00ff00"/><rect x="197" y="24" width="1" height="6" fill="#00ff00"/><rect x="196" y="25" width="3" height="4" fill="#00ff00"/><rect x="197" y="26" width="1" height="2" fill="#000"/><rect x="201" y="19" width="1" height="8" fill="#00ff00"/><rect x="200" y="21" width="3" height="3" fill="#00ff00"/><rect x="201" y="22" width="1" height="1" fill="#000"/><rect x="205" y="20" width="1" height="5" fill="#00ff00"/><rect x="204" y="20" width="3" height="1" fill="#00ff00"/><rect x="209" y="20" width="1" height="5" fill="#00ff00"/><rect x="208" y="20" width="3" height="1" fill="#00ff00"/><rect x="213" y="20" width="1" height="4" fill="#00ff00"/><rect x="212" y="21" width="3" height="1" fill="#00ff00"/><rect x="217" y="20" width="1" height="3" fill="#00ff00"/><rect x="216" y="21" width="3" height="1" fill="#00ff00"/><rect x="221" y="21" width="1" height="10" fill="#00ff00"/><rect x="220" y="22" width="3" height="6" fill="#00ff00"/><rect x="221" y="23" width="1" height="4" fill="#ffffff"/><rect x="220" y="23" width="3" height="4" fill="#ffffff" opacity="0.3"/><rect x="225" y="26" width="1" height="13" fill="#00ff00"/><rect x="224" y="29" width="3" height="5" fill="#00ff00"/><rect x="225" y="30" width="1" height="3" fill="#ffffff"/><rect x="224" y="30" width="3" height="3" fill="#ffffff" opacity="0.3"/><rect x="229" y="27" width="1" height="9" fill="#00ff00"/><rect x="228" y="33" width="3" height="1" fill="#00ff00"/><rect x="233" y="27" width="1" height="9" fill="#00ff00"/><rect x="232" y="31" width="3" height="1" fill="#00ff00"/><rect x="237" y="25" width="1" height="8" fill="#00ff00"/><rect x="236" y="26" width="3" height="6" fill="#00ff00"/><rect x="237" y="27" width="1" height="4" fill="#000"/><rect x="241" y="21" width="1" height="8" fill="#00ff00"/><rect x="240" y="24" width="3" height="2" fill="#00ff00"/><rect x="245" y="26" width="1" height="8" fill="#00ff00"/><rect x="244" y="27" width="3" height="6" fill="#00ff00"/><rect x="245" y="28" width="1" height="4" fill="#ffffff"/><rect x="244" y="28" width="3" height="4" fill="#ffffff" opacity="0.3"/><rect x="249" y="24" width="1" height="10" fill="#00ff00"/><rect x="248" y="27" width="3" height="5" fill="#00ff00"/><rect x="249" y="28" width="1" height="3" fill="#000"/><rect x="253" y="20" width="1" height="11" fill="#00ff00"/><rect x="252" y="25" width="3" height="1" fill="#00ff00"/><rect x="257" y="18" width="1" height="9" fill="#00ff00"/><rect x="256" y="21" width="3" height="4" fill="#00ff00"/><rect x="257" y="22" width="1" height="2" fill="#000"/><rect x="261" y="21" width="1" height="5" fill="#00ff00"/><rect x="260" y="22" width="3" height="2" fill="#00ff00"/><rect x="265" y="21" width="1" height="5" fill="#00ff00"/><rect x="264" y="23" width="3" height="1" fill="#00ff00"/><rect x="269" y="20" width="1" height="6" fill="#00ff00"/><rect x="268" y="22" width="3" height="2" fill="#00ff00"/><rect x="273" y="19" width="1" height="8" fill="#00ff00"/><rect x="272" y="20" width="3" height="2" fill="#00ff00"/><rect x="277" y="20" width="1" height="14" fill="#00ff00"/><rect x="276" y="20" width="3" height="14" fill="#00ff00"/><rect x="277" y="21" width="1" height="12" fill="#ffffff"/><rect x="276" y="21" width="3" height="12" fill="#ffffff" opacity="0.3"/><rect x="281" y="29" width="1" height="11" fill="#00ff00"/><rect x="280" y="34" width="3" height="2" fill="#00ff00"/><rect x="285" y="32" width="1" height="6" fill="#00ff00"/><rect x="284" y="34" width="3" height="2" fill="#00ff00"/><rect x="289" y="32" width="1" height="4" fill="#00ff00"/><rect x="288" y="33" width="3" height="2" fill="#00ff00"/><rect x="293" y="33" width="1" height="5" fill="#00ff00"/><rect x="292" y="34" width="3" height="2" fill="#00ff00"/><rect x="297" y="35" width="1" height="8" fill="#00ff00"/><rect x="296" y="36" width="3" height="6" fill="#00ff00"/><rect x="297" y="37" width="1" height="4" fill="#ffffff"/><rect x="296" y="37" width="3" height="4" fill="#ffffff" opacity="0.3"/><rect x="301" y="36" width="1" height="9" fill="#00ff00"/><rect x="300" y="41" width="3" height="2" fill="#00ff00"/><rect x="305" y="40" width="1" height="7" fill="#00ff00"/><rect x="304" y="41" width="3" height="2" fill="#00ff00"/><rect x="309" y="36" width="1" height="8" fill="#00ff00"/><rect x="308" y="38" width="3" height="5" fill="#00ff00"/><rect x="309" y="39" width="1" height="3" fill="#000"/><rect x="313" y="35" width="1" height="5" fill="#00ff00"/><rect x="312" y="36" width="3" height="2" fill="#00ff00"/><rect x="317" y="34" width="1" height="4" fill="#00ff00"/><rect x="316" y="35" width="3" height="2" fill="#00ff00"/><rect x="321" y="34" width="1" height="4" fill="#00ff00"/><rect x="320" y="35" width="3" height="1" fill="#00ff00"/><rect x="325" y="25" width="1" height="10" fill="#00ff00"/><rect x="324" y="26" width="3" height="8" fill="#00ff00"/><rect x="325" y="27" width="1" height="6" fill="#000"/><rect x="329" y="22" width="1" height="9" fill="#00ff00"/><rect x="328" y="24" width="3" height="3" fill="#00ff00"/><rect x="329" y="25" width="1" height="1" fill="#000"/><rect x="333" y="21" width="1" height="7" fill="#00ff00"/><rect x="332" y="23" width="3" height="1" fill="#00ff00"/><rect x="337" y="22" width="1" height="4" fill="#00ff00"/><rect x="336" y="23" width="3" height="3" fill="#00ff00"/><rect x="337" y="24" width="1" height="1" fill="#ffffff"/><rect x="336" y="24" width="3" height="1" fill="#ffffff" opacity="0.3"/><rect x="341" y="22" width="1" height="7" fill="#00ff00"/><rect x="340" y="24" width="3" height="2" fill="#00ff00"/><rect x="345" y="23" width="1" height="5" fill="#00ff00"/><rect x="344" y="24" width="3" height="2" fill="#00ff00"/><rect x="349" y="23" width="1" height="5" fill="#00ff00"/><rect x="348" y="24" width="3" height="2" fill="#00ff00"/><rect x="353" y="26" width="1" height="7" fill="#00ff00"/><rect x="352" y="27" width="3" height="4" fill="#00ff00"/><rect x="353" y="28" width="1" height="2" fill="#ffffff"/><rect x="352" y="28" width="3" height="2" fill="#ffffff" opacity="0.3"/><rect x="357" y="28" width="1" height="11" fill="#00ff00"/><rect x="356" y="30" width="3" height="8" fill="#00ff00"/><rect x="357" y="31" width="1" height="6" fill="#ffffff"/><rect x="356" y="31" width="3" height="6" fill="#ffffff" opacity="0.3"/><rect x="361" y="34" width="1" height="6" fill="#00ff00"/><rect x="360" y="35" width="3" height="3" fill="#00ff00"/><rect x="361" y="36" width="1" height="1" fill="#000"/><rect x="365" y="35" width="1" height="7" fill="#00ff00"/><rect x="364" y="36" width="3" height="4" fill="#00ff00"/><rect x="365" y="37" width="1" height="2" fill="#ffffff"/><rect x="364" y="37" width="3" height="2" fill="#ffffff" opacity="0.3"/><rect x="369" y="38" width="1" height="8" fill="#00ff00"/><rect x="368" y="39" width="3" height="2" fill="#00ff00"/><rect x="373" y="40" width="1" height="15" fill="#00ff00"/><rect x="372" y="41" width="3" height="11" fill="#00ff00"/><rect x="373" y="42" width="1" height="9" fill="#ffffff"/><rect x="372" y="42" width="3" height="9" fill="#ffffff" opacity="0.3"/><rect x="377" y="48" width="1" height="12" fill="#00ff00"/><rect x="376" y="49" width="3" height="3" fill="#00ff00"/><rect x="377" y="50" width="1" height="1" fill="#000"/><rect x="381" y="49" width="1" height="5" fill="#00ff00"/><rect x="380" y="49" width="3" height="2" fill="#00ff00"/><rect x="385" y="49" width="1" height="5" fill="#00ff00"/><rect x="384" y="50" width="3" height="2" fill="#00ff00"/><rect x="389" y="50" width="1" height="5" fill="#00ff00"/><rect x="388" y="51" width="3" height="2" fill="#00ff00"/><rect x="393" y="50" width="1" height="5" fill="#00ff00"/><rect x="392" y="51" width="3" height="1" fill="#00ff00"/><rect x="397" y="47" width="1" height="6" fill="#00ff00"/><rect x="396" y="50" width="3" height="1" fill="#00ff00"/><rect x="401" y="50" width="1" height="14" fill="#00ff00"/><rect x="400" y="50" width="3" height="13" fill="#00ff00"/><rect x="401" y="51" width="1" height="11" fill="#ffffff"/><rect x="400" y="51" width="3" height="11" fill="#ffffff" opacity="0.3"/><rect x="405" y="62" width="1" height="12" fill="#00ff00"/><rect x="404" y="63" width="3" height="5" fill="#00ff00"/><rect x="405" y="64" width="1" height="3" fill="#ffffff"/><rect x="404" y="64" width="3" height="3" fill="#ffffff" opacity="0.3"/><rect x="409" y="68" width="1" height="13" fill="#00ff00"/><rect x="408" y="69" width="3" height="6" fill="#00ff00"/><rect x="409" y="70" width="1" height="4" fill="#ffffff"/><rect x="408" y="70" width="3" height="4" fill="#ffffff" opacity="0.3"/><rect x="413" y="74" width="1" height="9" fill="#00ff00"/><rect x="412" y="76" width="3" height="3" fill="#00ff00"/><rect x="413" y="77" width="1" height="1" fill="#ffffff"/><rect x="412" y="77" width="3" height="1" fill="#ffffff" opacity="0.3"/><rect x="417" y="76" width="1" height="12" fill="#00ff00"/><rect x="416" y="78" width="3" height="8" fill="#00ff00"/><rect x="417" y="79" width="1" height="6" fill="#ffffff"/><rect x="416" y="79" width="3" height="6" fill="#ffffff" opacity="0.3"/><rect x="421" y="83" width="1" height="8" fill="#00ff00"/><rect x="420" y="85" width="3" height="4" fill="#00ff00"/><rect x="421" y="86" width="1" height="2" fill="#ffffff"/><rect x="420" y="86" width="3" height="2" fill="#ffffff" opacity="0.3"/><rect x="425" y="85" width="1" height="10" fill="#00ff00"/><rect x="424" y="88" width="3" height="2" fill="#00ff00"/><rect x="429" y="86" width="1" height="8" fill="#00ff00"/><rect x="428" y="90" width="3" height="3" fill="#00ff00"/><rect x="429" y="91" width="1" height="1" fill="#ffffff"/><rect x="428" y="91" width="3" height="1" fill="#ffffff" opacity="0.3"/><rect x="433" y="92" width="1" height="5" fill="#00ff00"/><rect x="432" y="93" width="3" height="3" fill="#00ff00"/><rect x="433" y="94" width="1" height="1" fill="#ffffff"/><rect x="432" y="94" width="3" height="1" fill="#ffffff" opacity="0.3"/><rect x="437" y="97" width="1" height="11" fill="#00ff00"/><rect x="436" y="97" width="3" height="9" fill="#00ff00"/><rect x="437" y="98" width="1" height="7" fill="#ffffff"/><rect x="436" y="98" width="3" height="7" fill="#ffffff" opacity="0.3"/><rect x="441" y="104" width="1" height="6" fill="#00ff00"/><rect x="440" y="106" width="3" height="1" fill="#00ff00"/><rect x="445" y="103" width="1" height="12" fill="#00ff00"/><rect x="444" y="107" width="3" height="7" fill="#00ff00"/><rect x="445" y="108" width="1" height="5" fill="#ffffff"/><rect x="444" y="108" width="3" height="5" fill="#ffffff" opacity="0.3"/><rect x="449" y="105" width="1" height="9" fill="#00ff00"/><rect x="448" y="109" width="3" height="5" fill="#00ff00"/><rect x="449" y="110" width="1" height="3" fill="#000"/><rect x="453" y="98" width="1" height="14" fill="#00ff00"/><rect x="452" y="102" width="3" height="8" fill="#00ff00"/><rect x="453" y="103" width="1" height="6" fill="#000"/><rect x="457" y="96" width="1" height="11" fill="#00ff00"/><rect x="456" y="102" width="3" height="4" fill="#00ff00"/><rect x="457" y="103" width="1" height="2" fill="#ffffff"/><rect x="456" y="103" width="3" height="2" fill="#ffffff" opacity="0.3"/><rect x="461" y="98" width="1" height="12" fill="#00ff00"/><rect x="460" y="99" width="3" height="7" fill="#00ff00"/><rect x="461" y="100" width="1" height="5" fill="#000"/><rect x="465" y="98" width="1" height="8" fill="#00ff00"/><rect x="464" y="100" width="3" height="3" fill="#00ff00"/><rect x="465" y="101" width="1" height="1" fill="#ffffff"/><rect x="464" y="101" width="3" height="1" fill="#ffffff" opacity="0.3"/><rect x="469" y="98" width="1" height="10" fill="#00ff00"/><rect x="468" y="102" width="3" height="3" fill="#00ff00"/><rect x="469" y="103" width="1" height="1" fill="#ffffff"/><rect x="468" y="103" width="3" height="1" fill="#ffffff" opacity="0.3"/><rect x="473" y="100" width="1" height="10" fill="#00ff00"/><rect x="472" y="105" width="3" height="4" fill="#00ff00"/><rect x="473" y="106" width="1" height="2" fill="#ffffff"/><rect x="472" y="106" width="3" height="2" fill="#ffffff" opacity="0.3"/><rect x="477" y="105" width="1" height="8" fill="#00ff00"/><rect x="476" y="109" width="3" height="3" fill="#00ff00"/><rect x="477" y="110" width="1" height="1" fill="#ffffff"/><rect x="476" y="110" width="3" height="1" fill="#ffffff" opacity="0.3"/><rect x="481" y="104" width="1" height="11" fill="#00ff00"/><rect x="480" y="106" width="3" height="6" fill="#00ff00"/><rect x="481" y="107" width="1" height="4" fill="#000"/><rect x="485" y="99" width="1" height="8" fill="#00ff00"/><rect x="484" y="102" width="3" height="3" fill="#00ff00"/><rect x="485" y="103" width="1" height="1" fill="#000"/><rect x="489" y="100" width="1" height="4" fill="#00ff00"/><rect x="488" y="101" width="3" height="1" fill="#00ff00"/><rect x="493" y="96" width="1" height="7" fill="#00ff00"/><rect x="492" y="97" width="3" height="5" fill="#00ff00"/><rect x="493" y="98" width="1" height="3" fill="#000"/><rect x="497" y="94" width="1" height="6" fill="#00ff00"/><rect x="496" y="95" width="3" height="4" fill="#00ff00"/><rect x="497" y="96" width="1" height="2" fill="#000"/><rect x="501" y="88" width="1" height="14" fill="#00ff00"/><rect x="500" y="92" width="3" height="2" fill="#00ff00"/><rect x="505" y="88" width="1" height="11" fill="#00ff00"/><rect x="504" y="91" width="3" height="2" fill="#00ff00"/><rect x="509" y="89" width="1" height="7" fill="#00ff00"/><rect x="508" y="92" width="3" height="1" fill="#00ff00"/><rect x="513" y="91" width="1" height="5" fill="#00ff00"/><rect x="512" y="92" width="3" height="2" fill="#00ff00"/><rect x="517" y="92" width="1" height="8" fill="#00ff00"/><rect x="516" y="93" width="3" height="5" fill="#00ff00"/><rect x="517" y="94" width="1" height="3" fill="#ffffff"/><rect x="516" y="94" width="3" height="3" fill="#ffffff" opacity="0.3"/><rect x="521" y="98" width="1" height="8" fill="#00ff00"/><rect x="520" y="98" width="3" height="4" fill="#00ff00"/><rect x="521" y="99" width="1" height="2" fill="#ffffff"/><rect x="520" y="99" width="3" height="2" fill="#ffffff" opacity="0.3"/><rect x="525" y="99" width="1" height="9" fill="#00ff00"/><rect x="524" y="101" width="3" height="6" fill="#00ff00"/><rect x="525" y="102" width="1" height="4" fill="#ffffff"/><rect x="524" y="102" width="3" height="4" fill="#ffffff" opacity="0.3"/><rect x="529" y="105" width="1" height="6" fill="#00ff00"/><rect x="528" y="106" width="3" height="4" fill="#00ff00"/><rect x="529" y="107" width="1" height="2" fill="#ffffff"/><rect x="528" y="107" width="3" height="2" fill="#ffffff" opacity="0.3"/><rect x="533" y="109" width="1" height="9" fill="#00ff00"/><rect x="532" y="109" width="3" height="7" fill="#00ff00"/><rect x="533" y="110" width="1" height="5" fill="#ffffff"/><rect x="532" y="110" width="3" height="5" fill="#ffffff" opacity="0.3"/><rect x="537" y="109" width="1" height="7" fill="#00ff00"/><rect x="536" y="112" width="3" height="4" fill="#00ff00"/><rect x="537" y="113" width="1" height="2" fill="#000"/><rect x="541" y="110" width="1" height="10" fill="#00ff00"/><rect x="540" y="112" width="3" height="6" fill="#00ff00"/><rect x="541" y="113" width="1" height="4" fill="#ffffff"/><rect x="540" y="113" width="3" height="4" fill="#ffffff" opacity="0.3"/><rect x="545" y="116" width="1" height="13" fill="#00ff00"/><rect x="544" y="118" width="3" height="8" fill="#00ff00"/><rect x="545" y="119" width="1" height="6" fill="#ffffff"/><rect x="544" y="119" width="3" height="6" fill="#ffffff" opacity="0.3"/><rect x="549" y="104" width="1" height="30" fill="#00ff00"/><rect x="548" y="109" width="3" height="18" fill="#00ff00"/><rect x="549" y="110" width="1" height="16" fill="#000"/><rect x="553" y="108" width="1" height="11" fill="#00ff00"/><rect x="552" y="109" width="3" height="5" fill="#00ff00"/><rect x="553" y="110" width="1" height="3" fill="#ffffff"/><rect x="552" y="110" width="3" height="3" fill="#ffffff" opacity="0.3"/><rect x="557" y="109" width="1" height="7" fill="#00ff00"/><rect x="556" y="113" width="3" height="2" fill="#00ff00"/><rect x="561" y="116" width="1" height="8" fill="#00ff00"/><rect x="560" y="117" width="3" height="4" fill="#00ff00"/><rect x="561" y="118" width="1" height="2" fill="#ffffff"/><rect x="560" y="118" width="3" height="2" fill="#ffffff" opacity="0.3"/><rect x="565" y="117" width="1" height="6" fill="#00ff00"/><rect x="564" y="120" width="3" height="2" fill="#00ff00"/><rect x="569" y="120" width="1" height="8" fill="#00ff00"/><rect x="568" y="121" width="3" height="4" fill="#00ff00"/><rect x="569" y="122" width="1" height="2" fill="#ffffff"/><rect x="568" y="122" width="3" height="2" fill="#ffffff" opacity="0.3"/><rect x="573" y="119" width="1" height="9" fill="#00ff00"/><rect x="572" y="121" width="3" height="4" fill="#00ff00"/><rect x="573" y="122" width="1" height="2" fill="#000"/><rect x="577" y="117" width="1" height="13" fill="#00ff00"/><rect x="576" y="121" width="3" height="8" fill="#00ff00"/><rect x="577" y="122" width="1" height="6" fill="#ffffff"/><rect x="576" y="122" width="3" height="6" fill="#ffffff" opacity="0.3"/><rect x="581" y="123" width="1" height="10" fill="#00ff00"/><rect x="580" y="128" width="3" height="3" fill="#00ff00"/><rect x="581" y="129" width="1" height="1" fill="#ffffff"/><rect x="580" y="129" width="3" height="1" fill="#ffffff" opacity="0.3"/><rect x="585" y="127" width="1" height="8" fill="#00ff00"/><rect x="584" y="129" width="3" height="5" fill="#00ff00"/><rect x="585" y="130" width="1" height="3" fill="#ffffff"/><rect x="584" y="130" width="3" height="3" fill="#ffffff" opacity="0.3"/><rect x="589" y="127" width="1" height="8" fill="#00ff00"/><rect x="588" y="131" width="3" height="3" fill="#00ff00"/><rect x="589" y="132" width="1" height="1" fill="#000"/><rect x="593" y="121" width="1" height="12" fill="#00ff00"/><rect x="592" y="122" width="3" height="10" fill="#00ff00"/><rect x="593" y="123" width="1" height="8" fill="#000"/><rect x="597" y="119" width="1" height="9" fill="#00ff00"/><rect x="596" y="121" width="3" height="3" fill="#00ff00"/><rect x="597" y="122" width="1" height="1" fill="#000"/><rect x="601" y="99" width="1" height="26" fill="#00ff00"/><rect x="600" y="111" width="3" height="12" fill="#00ff00"/><rect x="601" y="112" width="1" height="10" fill="#000"/><rect x="605" y="99" width="1" height="15" fill="#00ff00"/><rect x="604" y="101" width="3" height="10" fill="#00ff00"/><rect x="605" y="102" width="1" height="8" fill="#000"/><rect x="609" y="98" width="1" height="6" fill="#00ff00"/><rect x="608" y="101" width="3" height="3" fill="#00ff00"/><rect x="609" y="102" width="1" height="1" fill="#ffffff"/><rect x="608" y="102" width="3" height="1" fill="#ffffff" opacity="0.3"/><rect x="613" y="102" width="1" height="8" fill="#00ff00"/><rect x="612" y="103" width="3" height="6" fill="#00ff00"/><rect x="613" y="104" width="1" height="4" fill="#ffffff"/><rect x="612" y="104" width="3" height="4" fill="#ffffff" opacity="0.3"/><rect x="617" y="106" width="1" height="6" fill="#00ff00"/><rect x="616" y="107" width="3" height="3" fill="#00ff00"/><rect x="617" y="108" width="1" height="1" fill="#000"/><rect x="621" y="103" width="1" height="15" fill="#00ff00"/><rect x="620" y="107" width="3" height="9" fill="#00ff00"/><rect x="621" y="108" width="1" height="7" fill="#ffffff"/><rect x="620" y="108" width="3" height="7" fill="#ffffff" opacity="0.3"/><rect x="625" y="111" width="1" height="11" fill="#00ff00"/><rect x="624" y="115" width="3" height="4" fill="#00ff00"/><rect x="625" y="116" width="1" height="2" fill="#ffffff"/><rect x="624" y="116" width="3" height="2" fill="#ffffff" opacity="0.3"/><rect x="629" y="116" width="1" height="15" fill="#00ff00"/><rect x="628" y="118" width="3" height="12" fill="#00ff00"/><rect x="629" y="119" width="1" height="10" fill="#ffffff"/><rect x="628" y="119" width="3" height="10" fill="#ffffff" opacity="0.3"/><rect x="633" y="127" width="1" height="14" fill="#00ff00"/><rect x="632" y="129" width="3" height="5" fill="#00ff00"/><rect x="633" y="130" width="1" height="3" fill="#ffffff"/><rect x="632" y="130" width="3" height="3" fill="#ffffff" opacity="0.3"/><rect x="637" y="130" width="1" height="26" fill="#00ff00"/><rect x="636" y="133" width="3" height="17" fill="#00ff00"/><rect x="637" y="134" width="1" height="15" fill="#ffffff"/><rect x="636" y="134" width="3" height="15" fill="#ffffff" opacity="0.3"/><rect x="641" y="147" width="1" height="12" fill="#00ff00"/><rect x="640" y="150" width="3" height="6" fill="#00ff00"/><rect x="641" y="151" width="1" height="4" fill="#ffffff"/><rect x="640" y="151" width="3" height="4" fill="#ffffff" opacity="0.3"/><rect x="645" y="151" width="1" height="12" fill="#00ff00"/><rect x="644" y="153" width="3" height="2" fill="#00ff00"/><rect x="649" y="144" width="1" height="16" fill="#00ff00"/><rect x="648" y="148" width="3" height="6" fill="#00ff00"/><rect x="649" y="149" width="1" height="4" fill="#000"/><rect x="653" y="137" width="1" height="14" fill="#00ff00"/><rect x="652" y="146" width="3" height="2" fill="#00ff00"/><rect x="657" y="145" width="1" height="9" fill="#00ff00"/><rect x="656" y="146" width="3" height="1" fill="#00ff00"/><rect x="661" y="140" width="1" height="12" fill="#00ff00"/><rect x="660" y="146" width="3" height="5" fill="#00ff00"/><rect x="661" y="147" width="1" height="3" fill="#ffffff"/><rect x="660" y="147" width="3" height="3" fill="#ffffff" opacity="0.3"/><rect x="665" y="150" width="1" height="11" fill="#00ff00"/><rect x="664" y="150" width="3" height="3" fill="#00ff00"/><rect x="665" y="151" width="1" height="1" fill="#ffffff"/><rect x="664" y="151" width="3" height="1" fill="#ffffff" opacity="0.3"/><rect x="669" y="147" width="1" height="7" fill="#00ff00"/><rect x="668" y="148" width="3" height="5" fill="#00ff00"/><rect x="669" y="149" width="1" height="3" fill="#000"/><rect x="673" y="139" width="1" height="27" fill="#00ff00"/><rect x="672" y="148" width="3" height="7" fill="#00ff00"/><rect x="673" y="149" width="1" height="5" fill="#ffffff"/><rect x="672" y="149" width="3" height="5" fill="#ffffff" opacity="0.3"/><rect x="677" y="153" width="1" height="23" fill="#00ff00"/><rect x="676" y="155" width="3" height="15" fill="#00ff00"/><rect x="677" y="156" width="1" height="13" fill="#ffffff"/><rect x="676" y="156" width="3" height="13" fill="#ffffff" opacity="0.3"/><rect x="681" y="168" width="1" height="7" fill="#00ff00"/><rect x="680" y="169" width="3" height="5" fill="#00ff00"/><rect x="681" y="170" width="1" height="3" fill="#ffffff"/><rect x="680" y="170" width="3" height="3" fill="#ffffff" opacity="0.3"/><rect x="685" y="173" width="1" height="18" fill="#00ff00"/><rect x="684" y="182" width="3" height="7" fill="#00ff00"/><rect x="685" y="183" width="1" height="5" fill="#ffffff"/><rect x="684" y="183" width="3" height="5" fill="#ffffff" opacity="0.3"/><rect x="689" y="188" width="1" height="42" fill="#00ff00"/><rect x="688" y="189" width="3" height="23" fill="#00ff00"/><rect x="689" y="190" width="1" height="21" fill="#ffffff"/><rect x="688" y="190" width="3" height="21" fill="#ffffff" opacity="0.3"/><rect x="693" y="199" width="1" height="16" fill="#00ff00"/><rect x="692" y="202" width="3" height="9" fill="#00ff00"/><rect x="693" y="203" width="1" height="7" fill="#000"/><rect x="697" y="202" width="1" height="19" fill="#00ff00"/><rect x="696" y="203" width="3" height="12" fill="#00ff00"/><rect x="697" y="204" width="1" height="10" fill="#ffffff"/><rect x="696" y="204" width="3" height="10" fill="#ffffff" opacity="0.3"/><rect x="701" y="206" width="1" height="9" fill="#00ff00"/><rect x="700" y="210" width="3" height="5" fill="#00ff00"/><rect x="701" y="211" width="1" height="3" fill="#000"/><rect x="705" y="195" width="1" height="19" fill="#00ff00"/><rect x="704" y="202" width="3" height="8" fill="#00ff00"/><rect x="705" y="203" width="1" height="6" fill="#000"/><rect x="709" y="197" width="1" height="11" fill="#00ff00"/><rect x="708" y="202" width="3" height="4" fill="#00ff00"/><rect x="709" y="203" width="1" height="2" fill="#ffffff"/><rect x="708" y="203" width="3" height="2" fill="#ffffff" opacity="0.3"/><rect x="713" y="203" width="1" height="7" fill="#00ff00"/><rect x="712" y="205" width="3" height="2" fill="#00ff00"/><rect x="717" y="197" width="1" height="12" fill="#00ff00"/><rect x="716" y="199" width="3" height="8" fill="#00ff00"/><rect x="717" y="200" width="1" height="6" fill="#000"/><rect x="721" y="193" width="1" height="11" fill="#00ff00"/><rect x="720" y="199" width="3" height="3" fill="#00ff00"/><rect x="721" y="200" width="1" height="1" fill="#ffffff"/><rect x="720" y="200" width="3" height="1" fill="#ffffff" opacity="0.3"/><rect x="725" y="183" width="1" height="20" fill="#00ff00"/><rect x="724" y="188" width="3" height="13" fill="#00ff00"/><rect x="725" y="189" width="1" height="11" fill="#000"/><rect x="729" y="163" width="1" height="32" fill="#00ff00"/><rect x="728" y="166" width="3" height="22" fill="#00ff00"/><rect x="729" y="167" width="1" height="20" fill="#000"/><rect x="733" y="150" width="1" height="17" fill="#00ff00"/><rect x="732" y="160" width="3" height="6" fill="#00ff00"/><rect x="733" y="161" width="1" height="4" fill="#000"/><rect x="737" y="156" width="1" height="13" fill="#00ff00"/><rect x="736" y="161" width="3" height="1" fill="#00ff00"/></g>
<line x1="2" y1="161.5" x2="928" y2="161.5" stroke="#8c98a2" stroke-width="1" shape-rendering="crispEdges"/>
<line x1="534" y1="134.6" x2="790" y2="137.6" stroke="#fff" stroke-width="1.1"/>
<line x1="737" y1="145.7" x2="873.5" y2="145.7" stroke="#fff" stroke-width="1.4"/>
<line x1="706.3" y1="116.3" x2="692.4" y2="128.6" stroke="#fff" stroke-width="1.1"/>
<polyline fill="none" stroke="#fff" stroke-width="1.2" points="741.4,160.7 749.6,144.4 755.3,159.6 770.3,126.1"/>
<polyline fill="none" stroke="#fff" stroke-width="1.2" points="761.8,135.1 770.3,126.1 770.3,136.7"/>
<polyline fill="none" stroke="#fff" stroke-width="1.2" points="759.4,166.6 769.5,144.1 778.7,171.8"/>
<polyline fill="none" stroke="#fff" stroke-width="1.2" points="770.8,165.3 778.7,171.8"/>
<line x1="780.6" y1="161.2" x2="780.6" y2="175.9" stroke="#fff" stroke-width="1.2"/>
<g shape-rendering="crispEdges" fill="#fff"><rect x="1" y="1" width="927" height="1"/><rect x="1" y="1" width="1" height="488"/><rect x="927" y="1" width="1" height="471"/><rect x="1" y="234" width="927" height="1"/><rect x="1" y="237" width="927" height="1"/><rect x="1" y="353" width="927" height="1"/><rect x="1" y="355" width="927" height="1"/><rect x="1" y="471" width="927" height="1"/><rect x="0" y="489" width="966" height="1"/></g>
<g shape-rendering="crispEdges"><rect x="1" y="283" width="1" height="5" fill="#ffff00"/><rect x="5" y="283" width="1" height="3" fill="#ffff00"/><rect x="9" y="283" width="1" height="3" fill="#ffff00"/><rect x="13" y="283" width="1" height="4" fill="#ffff00"/><rect x="17" y="283" width="1" height="5" fill="#ffff00"/><rect x="21" y="283" width="1" height="4" fill="#ffff00"/><rect x="25" y="283" width="1" height="4" fill="#ffff00"/><rect x="29" y="283" width="1" height="3" fill="#ffff00"/><rect x="33" y="281" width="1" height="3" fill="#ff0000"/><rect x="37" y="278" width="1" height="6" fill="#ff0000"/><rect x="41" y="276" width="1" height="8" fill="#ff0000"/><rect x="45" y="274" width="1" height="10" fill="#ff0000"/><rect x="49" y="274" width="1" height="10" fill="#ff0000"/><rect x="53" y="274" width="1" height="10" fill="#ff0000"/><rect x="57" y="276" width="1" height="8" fill="#ff0000"/><rect x="61" y="277" width="1" height="7" fill="#ff0000"/><rect x="65" y="279" width="1" height="5" fill="#ff0000"/><rect x="69" y="281" width="1" height="3" fill="#ff0000"/><rect x="73" y="283" width="1" height="2" fill="#ffff00"/><rect x="77" y="283" width="1" height="5" fill="#ffff00"/><rect x="81" y="283" width="1" height="7" fill="#ffff00"/><rect x="85" y="283" width="1" height="7" fill="#ffff00"/><rect x="89" y="283" width="1" height="6" fill="#ffff00"/><rect x="93" y="283" width="1" height="5" fill="#ffff00"/><rect x="97" y="283" width="1" height="3" fill="#ffff00"/><rect x="101" y="283" width="1" height="2" fill="#ffff00"/><rect x="105" y="283" width="1" height="1" fill="#ff0000"/><rect x="109" y="282" width="1" height="2" fill="#ff0000"/><rect x="113" y="282" width="1" height="2" fill="#ff0000"/><rect x="117" y="283" width="1" height="1" fill="#ff0000"/><rect x="121" y="283" width="1" height="1" fill="#ff0000"/><rect x="125" y="282" width="1" height="2" fill="#ff0000"/><rect x="129" y="277" width="1" height="7" fill="#ff0000"/><rect x="133" y="274" width="1" height="10" fill="#ff0000"/><rect x="137" y="272" width="1" height="12" fill="#ff0000"/><rect x="141" y="274" width="1" height="10" fill="#ff0000"/><rect x="145" y="274" width="1" height="10" fill="#ff0000"/><rect x="149" y="274" width="1" height="10" fill="#ff0000"/><rect x="153" y="276" width="1" height="8" fill="#ff0000"/><rect x="157" y="281" width="1" height="3" fill="#ff0000"/><rect x="161" y="283" width="1" height="1" fill="#ff0000"/><rect x="165" y="283" width="1" height="1" fill="#ffff00"/><rect x="173" y="283" width="1" height="3" fill="#ffff00"/><rect x="177" y="283" width="1" height="5" fill="#ffff00"/><rect x="181" y="283" width="1" height="7" fill="#ffff00"/><rect x="185" y="283" width="1" height="8" fill="#ffff00"/><rect x="189" y="283" width="1" height="7" fill="#ffff00"/><rect x="193" y="283" width="1" height="7" fill="#ffff00"/><rect x="197" y="283" width="1" height="4" fill="#ffff00"/><rect x="201" y="283" width="1" height="3" fill="#ffff00"/><rect x="205" y="283" width="1" height="1" fill="#ffff00"/><rect x="213" y="283" width="1" height="1" fill="#ff0000"/><rect x="221" y="283" width="1" height="3" fill="#ffff00"/><rect x="225" y="283" width="1" height="7" fill="#ffff00"/><rect x="229" y="283" width="1" height="8" fill="#ffff00"/><rect x="233" y="283" width="1" height="9" fill="#ffff00"/><rect x="237" y="283" width="1" height="7" fill="#ffff00"/><rect x="241" y="283" width="1" height="4" fill="#ffff00"/><rect x="245" y="283" width="1" height="5" fill="#ffff00"/><rect x="249" y="283" width="1" height="3" fill="#ffff00"/><rect x="253" y="283" width="1" height="2" fill="#ffff00"/><rect x="257" y="283" width="1" height="1" fill="#ff0000"/><rect x="261" y="283" width="1" height="1" fill="#ff0000"/><rect x="265" y="282" width="1" height="2" fill="#ff0000"/><rect x="269" y="282" width="1" height="2" fill="#ff0000"/><rect x="273" y="281" width="1" height="3" fill="#ff0000"/><rect x="277" y="283" width="1" height="1" fill="#ffff00"/><rect x="281" y="283" width="1" height="5" fill="#ffff00"/><rect x="285" y="283" width="1" height="7" fill="#ffff00"/><rect x="289" y="283" width="1" height="7" fill="#ffff00"/><rect x="293" y="283" width="1" height="9" fill="#ffff00"/><rect x="297" y="283" width="1" height="10" fill="#ffff00"/><rect x="301" y="283" width="1" height="11" fill="#ffff00"/><rect x="305" y="283" width="1" height="11" fill="#ffff00"/><rect x="309" y="283" width="1" height="9" fill="#ffff00"/><rect x="313" y="283" width="1" height="7" fill="#ffff00"/><rect x="317" y="283" width="1" height="4" fill="#ffff00"/><rect x="321" y="283" width="1" height="1" fill="#ffff00"/><rect x="325" y="281" width="1" height="3" fill="#ff0000"/><rect x="329" y="277" width="1" height="7" fill="#ff0000"/><rect x="333" y="275" width="1" height="9" fill="#ff0000"/><rect x="337" y="274" width="1" height="10" fill="#ff0000"/><rect x="341" y="275" width="1" height="9" fill="#ff0000"/><rect x="345" y="275" width="1" height="9" fill="#ff0000"/><rect x="349" y="276" width="1" height="8" fill="#ff0000"/><rect x="353" y="279" width="1" height="5" fill="#ff0000"/><rect x="365" y="283" width="1" height="4" fill="#ffff00"/><rect x="369" y="283" width="1" height="6" fill="#ffff00"/><rect x="373" y="283" width="1" height="11" fill="#ffff00"/><rect x="377" y="283" width="1" height="13" fill="#ffff00"/><rect x="381" y="283" width="1" height="14" fill="#ffff00"/><rect x="385" y="283" width="1" height="13" fill="#ffff00"/><rect x="389" y="283" width="1" height="13" fill="#ffff00"/><rect x="393" y="283" width="1" height="11" fill="#ffff00"/><rect x="397" y="283" width="1" height="11" fill="#ffff00"/><rect x="401" y="283" width="1" height="12" fill="#ffff00"/><rect x="405" y="283" width="1" height="16" fill="#ffff00"/><rect x="409" y="283" width="1" height="19" fill="#ffff00"/><rect x="413" y="283" width="1" height="21" fill="#ffff00"/><rect x="417" y="283" width="1" height="23" fill="#ffff00"/><rect x="421" y="283" width="1" height="23" fill="#ffff00"/><rect x="425" y="283" width="1" height="23" fill="#ffff00"/><rect x="429" y="283" width="1" height="22" fill="#ffff00"/><rect x="433" y="283" width="1" height="21" fill="#ffff00"/><rect x="437" y="283" width="1" height="22" fill="#ffff00"/><rect x="441" y="283" width="1" height="22" fill="#ffff00"/><rect x="445" y="283" width="1" height="21" fill="#ffff00"/><rect x="449" y="283" width="1" height="19" fill="#ffff00"/><rect x="453" y="283" width="1" height="11" fill="#ffff00"/><rect x="457" y="283" width="1" height="8" fill="#ffff00"/><rect x="461" y="283" width="1" height="1" fill="#ffff00"/><rect x="465" y="281" width="1" height="3" fill="#ff0000"/><rect x="469" y="279" width="1" height="5" fill="#ff0000"/><rect x="473" y="279" width="1" height="5" fill="#ff0000"/><rect x="477" y="279" width="1" height="5" fill="#ff0000"/><rect x="481" y="277" width="1" height="7" fill="#ff0000"/><rect x="485" y="273" width="1" height="11" fill="#ff0000"/><rect x="489" y="270" width="1" height="14" fill="#ff0000"/><rect x="493" y="267" width="1" height="17" fill="#ff0000"/><rect x="497" y="265" width="1" height="19" fill="#ff0000"/><rect x="501" y="262" width="1" height="22" fill="#ff0000"/><rect x="505" y="262" width="1" height="22" fill="#ff0000"/><rect x="509" y="262" width="1" height="22" fill="#ff0000"/><rect x="513" y="262" width="1" height="22" fill="#ff0000"/><rect x="517" y="266" width="1" height="18" fill="#ff0000"/><rect x="521" y="270" width="1" height="14" fill="#ff0000"/><rect x="525" y="274" width="1" height="10" fill="#ff0000"/><rect x="529" y="278" width="1" height="6" fill="#ff0000"/><rect x="533" y="283" width="1" height="1" fill="#ff0000"/><rect x="541" y="283" width="1" height="3" fill="#ffff00"/><rect x="545" y="283" width="1" height="7" fill="#ffff00"/><rect x="549" y="283" width="1" height="2" fill="#ffff00"/><rect x="553" y="283" width="1" height="1" fill="#ffff00"/><rect x="561" y="283" width="1" height="1" fill="#ffff00"/><rect x="565" y="283" width="1" height="1" fill="#ffff00"/><rect x="569" y="283" width="1" height="2" fill="#ffff00"/><rect x="573" y="283" width="1" height="1" fill="#ffff00"/><rect x="577" y="283" width="1" height="3" fill="#ffff00"/><rect x="581" y="283" width="1" height="4" fill="#ffff00"/><rect x="585" y="283" width="1" height="5" fill="#ffff00"/><rect x="589" y="283" width="1" height="5" fill="#ffff00"/><rect x="597" y="282" width="1" height="2" fill="#ff0000"/><rect x="601" y="274" width="1" height="10" fill="#ff0000"/><rect x="605" y="267" width="1" height="17" fill="#ff0000"/><rect x="609" y="264" width="1" height="20" fill="#ff0000"/><rect x="613" y="264" width="1" height="20" fill="#ff0000"/><rect x="617" y="265" width="1" height="19" fill="#ff0000"/><rect x="621" y="269" width="1" height="15" fill="#ff0000"/><rect x="625" y="273" width="1" height="11" fill="#ff0000"/><rect x="629" y="280" width="1" height="4" fill="#ff0000"/><rect x="633" y="283" width="1" height="2" fill="#ffff00"/><rect x="637" y="283" width="1" height="11" fill="#ffff00"/><rect x="641" y="283" width="1" height="19" fill="#ffff00"/><rect x="645" y="283" width="1" height="21" fill="#ffff00"/><rect x="649" y="283" width="1" height="20" fill="#ffff00"/><rect x="653" y="283" width="1" height="16" fill="#ffff00"/><rect x="657" y="283" width="1" height="13" fill="#ffff00"/><rect x="661" y="283" width="1" height="11" fill="#ffff00"/><rect x="665" y="283" width="1" height="11" fill="#ffff00"/><rect x="669" y="283" width="1" height="7" fill="#ffff00"/><rect x="673" y="283" width="1" height="8" fill="#ffff00"/><rect x="677" y="283" width="1" height="14" fill="#ffff00"/><rect x="681" y="283" width="1" height="16" fill="#ffff00"/><rect x="685" y="283" width="1" height="21" fill="#ffff00"/><rect x="689" y="283" width="1" height="27" fill="#ffff00"/><rect x="693" y="283" width="1" height="32" fill="#ffff00"/><rect x="697" y="283" width="1" height="36" fill="#ffff00"/><rect x="701" y="283" width="1" height="33" fill="#ffff00"/><rect x="705" y="283" width="1" height="26" fill="#ffff00"/><rect x="709" y="283" width="1" height="19" fill="#ffff00"/><rect x="713" y="283" width="1" height="13" fill="#ffff00"/><rect x="717" y="283" width="1" height="7" fill="#ffff00"/><rect x="721" y="283" width="1" height="1" fill="#ffff00"/><rect x="725" y="276" width="1" height="8" fill="#ff0000"/><rect x="729" y="262" width="1" height="22" fill="#ff0000"/><rect x="733" y="250" width="1" height="34" fill="#ff0000"/><rect x="737" y="245" width="1" height="39" fill="#ff0000"/></g>
<polyline fill="none" stroke="#4682b4" stroke-width="1.0" points="1.5,282.6 10.0,284.8 17.6,286.8 25.0,286.8 30.0,286.0 33.5,283.5 38.5,278.4 46.9,274.7 55.2,273.1 67.0,273.1 72.0,275.1 78.7,279.3 87.0,281.4 93.7,281.8 100.4,280.9 108.8,279.3 117.2,278.4 123.8,277.6 132.2,270.9 140.6,267.6 150.6,266.4 157.3,267.6 161.0,269.2 173.4,270.6 178.4,273.4 185.0,276.4 198.5,276.8 201.8,275.9 220.3,275.9 227.0,280.1 233.6,282.1 243.7,281.8 250.4,280.9 255.4,280.4 263.8,280.1 272.1,278.4 277.2,279.8 283.8,281.8 293.9,285.1 298.9,289.3 305.6,293.2 312.3,292.2 320.0,290.5 328.4,285.4 336.7,281.7 345.1,280.7 353.5,280.1 358.5,280.7 366.9,285.4 373.6,292.1 380.3,296.3 390.3,299.2 397.0,299.7 403.7,303.5 412.0,310.5 420.4,318.9 428.8,324.8 437.2,328.9 443.8,334.0 448.9,336.1 453.9,334.3 462.3,330.6 470.6,326.4 477.3,325.3 481.0,323.6 488.4,317.2 496.7,309.7 505.1,302.2 513.5,297.5 521.8,297.5 530.2,299.7 538.6,303.0 545.3,307.2 550.3,304.7 557.0,303.0 567.0,305.2 577.1,305.8 587.1,309.7 593.8,307.2 598.8,303.8 603.8,296.3 610.5,289.6 617.2,286.3 623.9,286.8 630.0,290.4 635.1,295.5 641.4,304.4 649.0,310.7 657.8,311.9 665.4,313.2 671.8,311.9 678.1,315.0 684.4,322.1 690.8,336.0 697.1,344.4 702.2,347.4 709.7,347.4 716.1,344.4 722.4,336.0 727.5,325.9 732.5,315.7 737.5,308.2"/>
<polyline fill="none" stroke="#ffff00" stroke-width="1.1" points="1.5,281.8 10.0,282.6 17.6,283.8 25.0,284.3 33.5,284.3 41.8,281.8 50.2,278.4 58.6,276.4 68.6,275.4 73.6,276.4 83.7,278.1 93.7,279.8 100.4,280.4 108.8,280.1 117.2,279.6 125.5,279.6 133.9,276.4 142.3,273.4 150.6,270.9 161.0,270.6 175.0,270.6 185.0,272.2 196.8,275.4 222.0,275.4 233.6,278.4 243.7,279.8 253.7,280.9 260.4,280.4 283.8,280.4 293.9,282.6 302.3,285.1 310.6,288.5 321.0,290.6 330.0,287.9 340.1,285.1 353.5,282.9 361.8,282.9 370.2,284.6 378.6,287.9 387.0,291.8 395.3,294.6 403.7,297.1 412.0,301.3 420.4,306.9 428.8,312.2 437.2,318.1 445.5,324.8 452.2,328.1 458.9,329.3 465.6,328.9 474.0,327.6 481.0,326.4 488.4,323.1 496.7,318.9 505.1,313.0 513.5,308.0 521.8,303.8 528.5,302.2 543.6,302.2 552.0,303.8 563.7,304.7 577.1,305.2 585.4,306.4 597.2,306.4 603.8,303.8 612.2,298.8 618.9,295.5 624.8,292.5 630.0,292.2 634.0,292.8 637.6,295.5 645.2,300.6 655.3,304.9 665.4,308.9 673.0,309.9 680.6,313.2 685.7,315.7 693.3,323.3 700.9,330.9 708.5,336.8 716.1,339.8 722.4,339.8 728.7,336.8 733.8,332.2 737.5,327.6"/>
<ellipse cx="726.7" cy="322.3" rx="16.1" ry="36.3" fill="none" stroke="#fff" stroke-width="1.05"/>
<line x1="2" y1="379.5" x2="928" y2="379.5" stroke="#c8c8c8" stroke-width="1" stroke-dasharray="3,3" shape-rendering="crispEdges"/>
<line x1="2" y1="448.5" x2="928" y2="448.5" stroke="#c8c8c8" stroke-width="1" stroke-dasharray="3,3" shape-rendering="crispEdges"/>
<polyline fill="none" stroke="#1e90ff" stroke-width="1.05" points="0.0,418.6 5.5,413.6 9.5,416.4 13.5,419.3 17.5,419.3 21.5,416.4 25.5,418.1 29.5,413.9 33.5,400.5 37.5,402.2 41.5,402.2 45.5,399.7 49.5,402.2 53.5,401.4 57.5,404.4 61.5,404.4 65.5,402.2 69.5,408.1 73.5,422.3 77.5,420.3 81.5,418.1 85.5,414.3 89.5,415.3 93.5,414.3 97.5,410.6 101.5,410.2 105.5,403.5 109.5,405.2 113.5,405.6 117.5,411.4 121.5,408.1 125.5,400.5 129.5,391.3 133.5,392.2 137.5,391.3 141.5,395.5 145.5,393.0 149.5,392.5 153.5,397.2 157.5,403.9 161.5,407.3 165.5,406.5 169.5,398.4 173.5,407.6 177.5,415.2 181.5,413.2 185.5,412.2 189.5,411.0 193.5,411.0 197.5,406.0 201.5,401.3 205.5,402.1 209.5,401.3 213.5,403.1 217.5,404.8 221.5,415.2 225.5,424.4 229.5,421.0 233.5,418.8 237.5,410.5 241.5,410.5 245.5,419.4 249.5,411.5 253.5,409.3 257.5,405.5 261.5,409.3 265.5,408.1 269.5,407.6 273.5,404.8 277.5,421.9 281.5,424.4 285.5,423.5 289.5,423.5 293.5,424.9 297.5,431.1 301.5,432.4 305.5,432.4 309.5,425.2 313.5,419.9 317.5,419.4 321.5,417.2 325.5,405.9 329.5,401.4 333.5,401.2 337.5,402.6 341.5,407.6 345.5,404.2 349.5,408.4 353.5,416.8 357.5,424.3 361.5,420.5 365.5,426.0 369.5,427.7 373.5,437.2 377.5,433.5 381.5,434.4 385.5,435.2 389.5,435.2 393.5,433.5 397.5,432.7 401.5,442.7 405.5,446.9 409.5,449.4 413.5,451.1 417.5,453.6 421.5,454.5 425.5,454.5 429.5,455.3 433.5,457.0 437.5,459.5 441.5,459.5 445.5,460.6 449.5,454.5 453.5,441.6 457.5,443.2 461.5,434.4 465.5,435.2 469.5,437.2 473.5,438.9 477.5,441.1 481.5,434.0 485.5,427.7 489.5,426.0 493.5,422.2 497.5,418.5 501.5,415.5 505.5,417.1 509.5,416.0 513.5,415.5 517.5,423.2 521.5,426.0 525.5,431.0 529.5,433.5 533.5,437.4 537.5,432.7 541.5,437.2 545.5,441.6 549.5,420.5 553.5,424.3 557.5,423.5 561.5,428.2 565.5,429.4 569.5,430.2 573.5,427.7 577.5,432.2 581.5,433.5 585.5,435.2 589.5,432.4 593.5,421.5 597.5,422.2 601.5,410.9 605.5,403.4 609.5,405.1 613.5,410.9 617.5,409.3 621.5,416.0 625.5,418.5 629.5,426.0 633.5,428.5 637.5,436.0 641.5,439.4 645.5,437.2 649.5,431.9 653.5,429.4 657.5,430.2 661.5,432.2 665.5,434.4 669.5,428.5 673.5,432.7 677.5,438.9 681.5,440.2 685.5,446.1 689.5,451.6 693.5,442.7 697.5,444.9 701.5,441.9 705.5,435.2 709.5,437.4 713.5,437.4 717.5,430.2 721.5,431.5 725.5,422.7 729.5,410.1 733.5,407.1 737.5,408.4"/>
<g shape-rendering="crispEdges" fill="#fff"><rect x="1" y="472" width="1" height="3"/><rect x="65" y="472" width="1" height="3"/><rect x="129" y="472" width="1" height="3"/><rect x="193" y="472" width="1" height="3"/><rect x="257" y="472" width="1" height="3"/><rect x="321" y="472" width="1" height="3"/><rect x="385" y="472" width="1" height="3"/><rect x="449" y="472" width="1" height="3"/><rect x="513" y="472" width="1" height="3"/><rect x="577" y="472" width="1" height="3"/><rect x="641" y="472" width="1" height="3"/><rect x="705" y="472" width="1" height="3"/></g>
<polygon points="2,465 2,471 6,471" fill="#9a9aa8"/>
<text transform="translate(0.6,484.2) scale(0.9515,1)" style="font-family:'Liberation Sans',sans-serif;font-size:9.7px;fill:#ffffff">6 Feb 2008</text>
<text transform="translate(64.6,484.2) scale(0.9515,1)" style="font-family:'Liberation Sans',sans-serif;font-size:9.7px;fill:#ffffff">10 Feb 20:00</text>
<text transform="translate(128.6,484.2) scale(0.9515,1)" style="font-family:'Liberation Sans',sans-serif;font-size:9.7px;fill:#ffffff">13 Feb 12:00</text>
<text transform="translate(192.6,484.2) scale(0.9515,1)" style="font-family:'Liberation Sans',sans-serif;font-size:9.7px;fill:#ffffff">18 Feb 00:00</text>
<text transform="translate(256.6,484.2) scale(0.9515,1)" style="font-family:'Liberation Sans',sans-serif;font-size:9.7px;fill:#ffffff">20 Feb 16:00</text>
<text transform="translate(320.6,484.2) scale(0.9515,1)" style="font-family:'Liberation Sans',sans-serif;font-size:9.7px;fill:#ffffff">25 Feb 04:00</text>
<text transform="translate(384.6,484.2) scale(0.9515,1)" style="font-family:'Liberation Sans',sans-serif;font-size:9.7px;fill:#ffffff">27 Feb 20:00</text>
<text transform="translate(448.6,484.2) scale(0.9515,1)" style="font-family:'Liberation Sans',sans-serif;font-size:9.7px;fill:#ffffff">3 Mar 08:00</text>
<text transform="translate(512.6,484.2) scale(0.9515,1)" style="font-family:'Liberation Sans',sans-serif;font-size:9.7px;fill:#ffffff">6 Mar 00:00</text>
<text transform="translate(576.6,484.2) scale(0.9515,1)" style="font-family:'Liberation Sans',sans-serif;font-size:9.7px;fill:#ffffff">10 Mar 12:00</text>
<text transform="translate(640.6,484.2) scale(0.9515,1)" style="font-family:'Liberation Sans',sans-serif;font-size:9.7px;fill:#ffffff">13 Mar 04:00</text>
<text transform="translate(704.6,484.2) scale(0.9515,1)" style="font-family:'Liberation Sans',sans-serif;font-size:9.7px;fill:#ffffff">17 Mar 16:00</text>
<text transform="translate(5.4,13.2) scale(0.9720,1)" style="font-family:'Liberation Sans',sans-serif;font-size:9.7px;fill:#ffffff">USDJPY,H4&#160;&#160;99.82 100.10 99.38 99.78</text>
<text transform="translate(5.6,251.2) scale(0.9616,1)" style="font-family:'Liberation Sans',sans-serif;font-size:9.7px;fill:#ffffff">MACD(12,26,9) -0.5041 -0.9109 0.8137 0.0000</text>
<text transform="translate(5.5,368.9) scale(0.9496,1)" style="font-family:'Liberation Sans',sans-serif;font-size:9.7px;fill:#ffffff">RSI(14) 54.9924</text>
<polygon points="736,2 745.6,2 740.8,7.2" fill="#a0a0a8"/>
<rect x="928" y="10" width="2" height="1" fill="#fff" shape-rendering="crispEdges"/>
<text transform="translate(933.3,12.6) scale(0.9200,1)" style="font-family:'Liberation Sans',sans-serif;font-size:9.7px;fill:#ffffff">108.90</text>
<rect x="928" y="42" width="2" height="1" fill="#fff" shape-rendering="crispEdges"/>
<text transform="translate(933.3,44.5) scale(0.9200,1)" style="font-family:'Liberation Sans',sans-serif;font-size:9.7px;fill:#ffffff">107.00</text>
<rect x="928" y="74" width="2" height="1" fill="#fff" shape-rendering="crispEdges"/>
<text transform="translate(933.3,76.4) scale(0.9200,1)" style="font-family:'Liberation Sans',sans-serif;font-size:9.7px;fill:#ffffff">105.05</text>
<rect x="928" y="106" width="2" height="1" fill="#fff" shape-rendering="crispEdges"/>
<text transform="translate(933.3,108.3) scale(0.9200,1)" style="font-family:'Liberation Sans',sans-serif;font-size:9.7px;fill:#ffffff">103.15</text>
<rect x="928" y="138" width="2" height="1" fill="#fff" shape-rendering="crispEdges"/>
<text transform="translate(933.3,140.2) scale(0.9200,1)" style="font-family:'Liberation Sans',sans-serif;font-size:9.7px;fill:#ffffff">101.25</text>
<rect x="928" y="170" width="2" height="1" fill="#fff" shape-rendering="crispEdges"/>
<text transform="translate(933.3,172.1) scale(0.9200,1)" style="font-family:'Liberation Sans',sans-serif;font-size:9.7px;fill:#ffffff">99.30</text>
<rect x="928" y="201" width="2" height="1" fill="#fff" shape-rendering="crispEdges"/>
<text transform="translate(933.3,204.0) scale(0.9200,1)" style="font-family:'Liberation Sans',sans-serif;font-size:9.7px;fill:#ffffff">97.40</text>
<rect x="928" y="233" width="2" height="1" fill="#fff" shape-rendering="crispEdges"/>
<text transform="translate(933.3,235.9) scale(0.9200,1)" style="font-family:'Liberation Sans',sans-serif;font-size:9.7px;fill:#ffffff">95.50</text>
<rect x="929" y="155" width="31" height="11" fill="#fff" shape-rendering="crispEdges"/>
<text transform="translate(933.0,164.2) scale(0.9470,1)" style="font-family:'Liberation Sans',sans-serif;font-size:9.7px;fill:#191970">99.78</text>
<text transform="translate(931.6,248.4) scale(0.9200,1)" style="font-family:'Liberation Sans',sans-serif;font-size:9.7px;fill:#ffffff">1.0214</text>
<text transform="translate(931.6,286.4) scale(0.9200,1)" style="font-family:'Liberation Sans',sans-serif;font-size:9.7px;fill:#ffffff">0.00</text>
<text transform="translate(931.6,350.4) scale(0.8600,1)" style="font-family:'Liberation Sans',sans-serif;font-size:9.7px;fill:#ffffff">-1.4481</text>
<text transform="translate(931.6,366.2) scale(0.9200,1)" style="font-family:'Liberation Sans',sans-serif;font-size:9.7px;fill:#ffffff">100</text>
<text transform="translate(931.6,382.6) scale(0.9200,1)" style="font-family:'Liberation Sans',sans-serif;font-size:9.7px;fill:#ffffff">70</text>
<text transform="translate(931.6,451.9) scale(0.9200,1)" style="font-family:'Liberation Sans',sans-serif;font-size:9.7px;fill:#ffffff">30</text>
<text transform="translate(931.6,468.2) scale(0.9200,1)" style="font-family:'Liberation Sans',sans-serif;font-size:9.7px;fill:#ffffff">0</text>
<g fill="#fff" style="font-family:'Liberation Sans','Noto Sans CJK SC',sans-serif;font-size:19px;font-weight:bold">
<text x="775.7" y="210.9" textLength="168" lengthAdjust="spacingAndGlyphs">美日继续反弹的预</text>
<text x="775.7" y="229.9" textLength="157.5" lengthAdjust="spacingAndGlyphs">期仍然存在.如果</text>
<text x="774.5" y="248.9" textLength="169" lengthAdjust="spacingAndGlyphs">macd指标线目前的</text>
<text x="775.7" y="267.9" textLength="168" lengthAdjust="spacingAndGlyphs">金叉仍能向正轴方</text>
<text x="775.7" y="286.9" textLength="178.5" lengthAdjust="spacingAndGlyphs">向回归.那么将拉动</text>
<text x="775.7" y="305.9" textLength="168" lengthAdjust="spacingAndGlyphs">美日首先测试突破</text>
<text x="775" y="324.9" textLength="158" lengthAdjust="spacingAndGlyphs">MA60一线阻力.也</text>
<text x="775.7" y="343.9" textLength="168" lengthAdjust="spacingAndGlyphs">就是100.70的阻力</text>
<text x="775.2" y="362.9" textLength="179" lengthAdjust="spacingAndGlyphs">.摆脱该阻力之后才</text>
<text x="775.7" y="381.9" textLength="168" lengthAdjust="spacingAndGlyphs">能向101.30价位测</text>
<text x="775.7" y="400.9" textLength="115.5" lengthAdjust="spacingAndGlyphs">试;一旦突破</text>
<text x="775.2" y="419.9" textLength="158" lengthAdjust="spacingAndGlyphs">100.70失败.美日</text>
<text x="775.7" y="438.9" textLength="178.5" lengthAdjust="spacingAndGlyphs">将恢复下行.然而目</text>
<text x="775.7" y="457.9" textLength="168" lengthAdjust="spacingAndGlyphs">前前者存在概率较</text>
<text x="775.7" y="476.9">大</text>
</g>
<text x="36.9" y="73.7" textLength="109" lengthAdjust="spacingAndGlyphs" style="font-family:'Liberation Sans',sans-serif;font-size:17.5px;font-weight:bold;fill:#ffffff">USD/JPY 4H</text>
<text x="706.3" y="119.9" textLength="42.4" lengthAdjust="spacingAndGlyphs" style="font-family:'Liberation Sans',sans-serif;font-size:17.5px;font-weight:bold;fill:#ffffff">MA60</text>
<text x="472" y="144" textLength="64.5" lengthAdjust="spacingAndGlyphs" style="font-family:'Liberation Sans',sans-serif;font-size:17.5px;font-weight:bold;fill:#ffffff">101.30</text>
<text x="845.4" y="138" textLength="64.3" lengthAdjust="spacingAndGlyphs" style="font-family:'Liberation Sans',sans-serif;font-size:17.5px;font-weight:bold;fill:#ffffff">100.70</text>
<text x="33.1" y="461.7" textLength="247" lengthAdjust="spacingAndGlyphs" style="font-family:'Liberation Sans','Noto Sans CJK SC',sans-serif;font-size:16.5px;font-weight:bold;fill:#ffffff">Copyright©2008 玺汇国际</text></svg></body></html>
